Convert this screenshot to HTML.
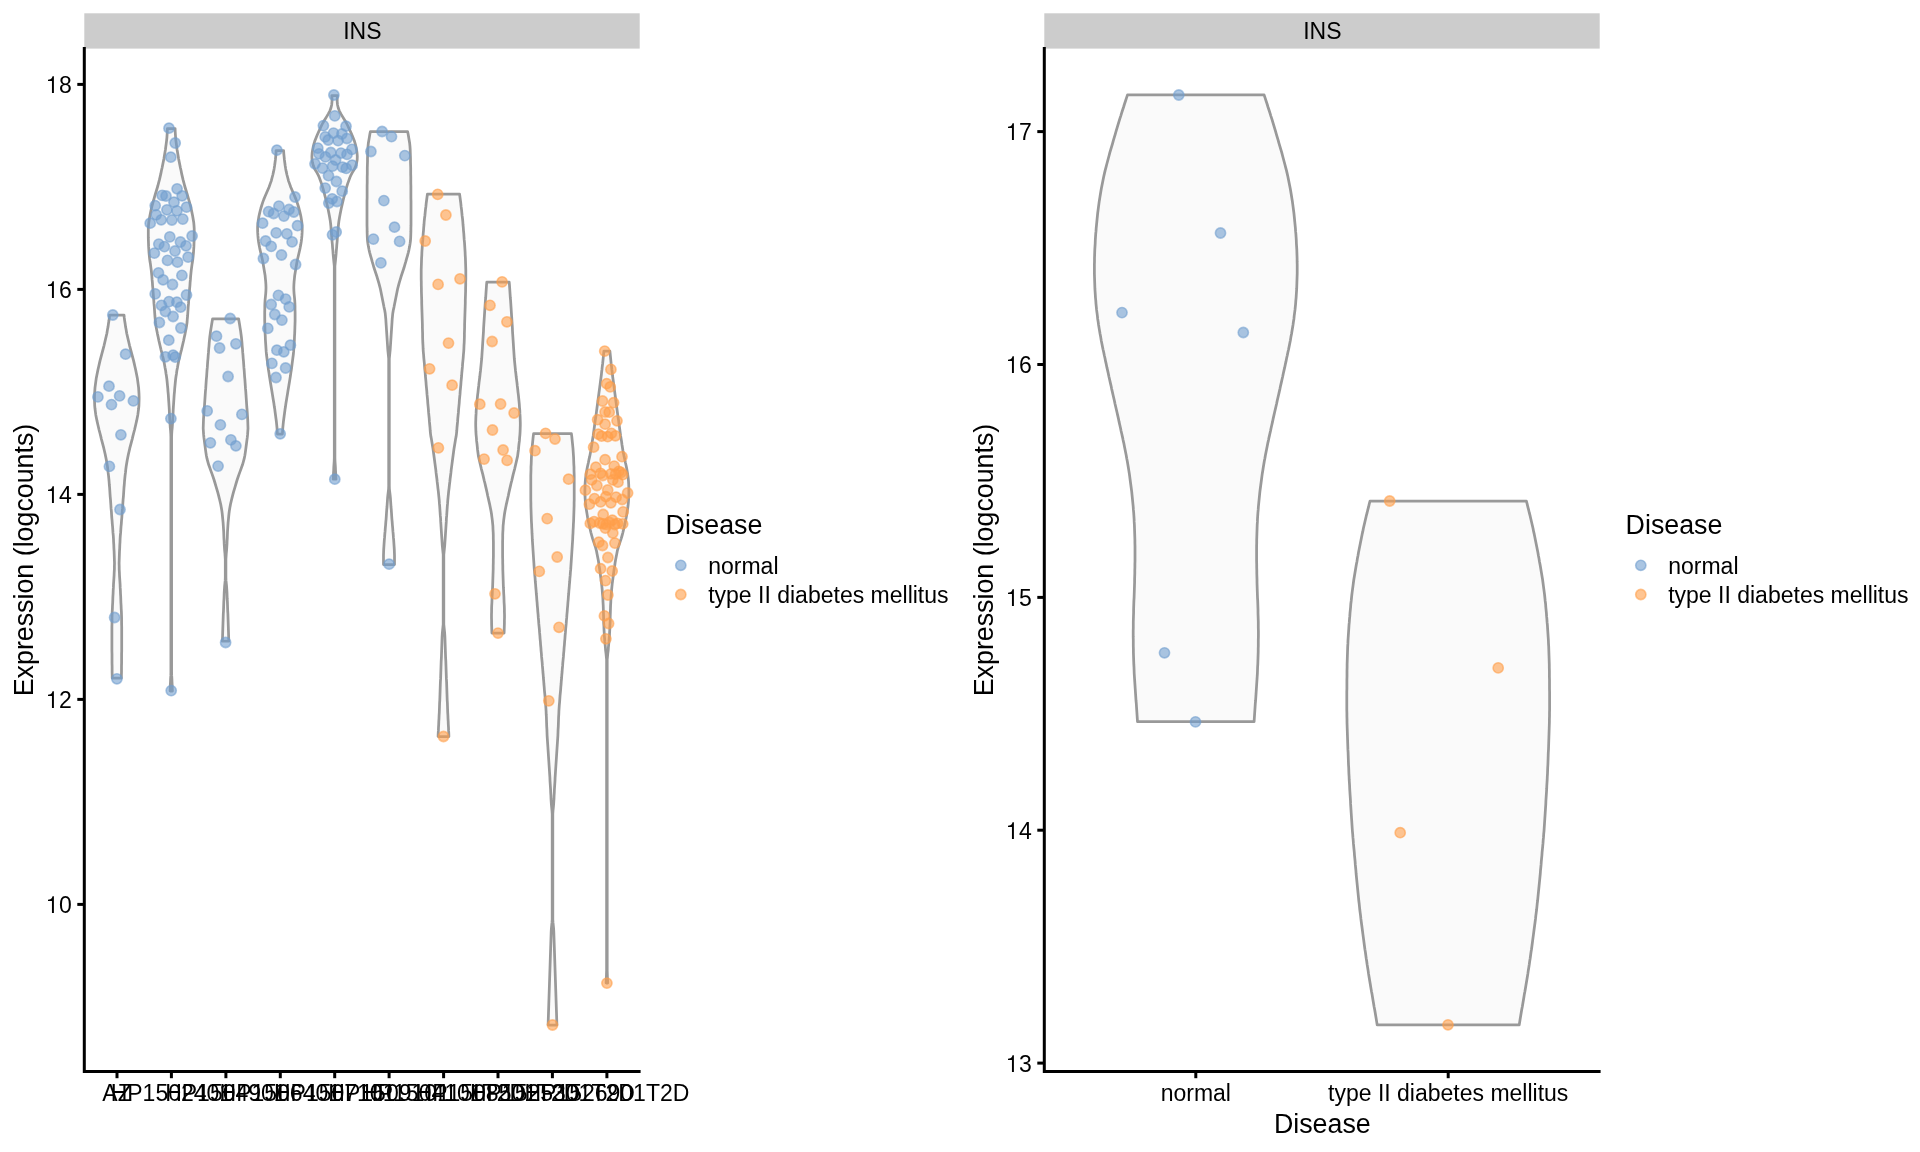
<!DOCTYPE html><html><head><meta charset="utf-8"><title>INS expression</title>
<style>html,body{margin:0;padding:0;background:#fff}svg{display:block;will-change:transform}text{font-family:"Liberation Sans",sans-serif;fill:#000}.t{font-size:23px}.T{font-size:26.8px}</style>
</head><body>
<svg width="1920" height="1152" viewBox="0 0 1920 1152">
<rect width="1920" height="1152" fill="#fff"/>
<rect x="84.3" y="13.3" width="555.4" height="35.3" fill="#CCCCCC"/>
<text class="t" x="362.3" y="38.8" text-anchor="middle">INS</text>
<g fill="#FAFAFA" stroke="#999999" stroke-width="2.75" stroke-linejoin="round">
<path d="M109.6 315.0 L109.3 318.0 L108.9 321.1 L108.4 324.1 L108.0 327.1 L107.4 330.1 L106.9 333.2 L106.2 336.2 L105.5 339.2 L104.8 342.2 L104.1 345.3 L103.3 348.3 L102.5 351.3 L101.7 354.3 L100.9 357.4 L100.1 360.4 L99.4 363.4 L98.7 366.5 L98.0 369.5 L97.4 372.5 L96.8 375.5 L96.2 378.6 L95.8 381.6 L95.4 384.6 L95.0 387.6 L94.8 390.7 L94.6 393.7 L94.5 396.7 L94.5 399.7 L94.6 402.8 L94.7 405.8 L95.0 408.8 L95.4 411.9 L95.8 414.9 L96.4 417.9 L97.0 420.9 L97.7 424.0 L98.4 427.0 L99.1 430.0 L99.9 433.0 L100.7 436.1 L101.4 439.1 L102.2 442.1 L103.0 445.1 L103.8 448.2 L104.5 451.2 L105.2 454.2 L105.8 457.3 L106.4 460.3 L106.9 463.3 L107.4 466.3 L107.8 469.4 L108.1 472.4 L108.5 475.4 L108.8 478.4 L109.1 481.5 L109.3 484.5 L109.6 487.5 L109.8 490.5 L110.0 493.6 L110.2 496.6 L110.5 499.6 L110.7 502.7 L110.9 505.7 L111.1 508.7 L111.4 511.7 L111.6 514.8 L111.8 517.8 L112.1 520.8 L112.3 523.8 L112.6 526.9 L112.8 529.9 L113.0 532.9 L113.3 535.9 L113.5 539.0 L113.6 542.0 L113.8 545.0 L113.9 548.1 L114.1 551.1 L114.2 554.1 L114.3 557.1 L114.4 560.2 L114.5 563.2 L114.4 566.2 L114.4 569.2 L114.2 572.3 L114.1 575.3 L113.9 578.3 L113.7 581.3 L113.5 584.4 L113.4 587.4 L113.2 590.4 L113.1 593.5 L112.9 596.5 L112.8 599.5 L112.7 602.5 L112.5 605.6 L112.4 608.6 L112.2 611.6 L112.1 614.6 L112.0 617.7 L112.0 620.7 L112.0 623.7 L111.9 626.7 L111.9 629.8 L111.9 632.8 L111.9 635.8 L111.9 638.9 L111.9 641.9 L111.9 644.9 L111.9 647.9 L111.9 651.0 L112.0 654.0 L112.0 657.0 L112.0 660.0 L112.0 663.1 L112.1 666.1 L112.1 669.1 L112.1 672.1 L112.2 675.2 L112.2 678.2 L121.4 678.2 L121.4 675.2 L121.5 672.1 L121.5 669.1 L121.5 666.1 L121.6 663.1 L121.6 660.0 L121.6 657.0 L121.6 654.0 L121.7 651.0 L121.7 647.9 L121.7 644.9 L121.7 641.9 L121.7 638.9 L121.7 635.8 L121.7 632.8 L121.7 629.8 L121.7 626.7 L121.6 623.7 L121.6 620.7 L121.6 617.7 L121.5 614.6 L121.4 611.6 L121.2 608.6 L121.1 605.6 L120.9 602.5 L120.8 599.5 L120.7 596.5 L120.5 593.5 L120.4 590.4 L120.2 587.4 L120.1 584.4 L119.9 581.3 L119.7 578.3 L119.5 575.3 L119.4 572.3 L119.2 569.2 L119.2 566.2 L119.1 563.2 L119.2 560.2 L119.3 557.1 L119.4 554.1 L119.5 551.1 L119.7 548.1 L119.8 545.0 L120.0 542.0 L120.1 539.0 L120.3 535.9 L120.6 532.9 L120.8 529.9 L121.0 526.9 L121.3 523.8 L121.5 520.8 L121.8 517.8 L122.0 514.8 L122.2 511.7 L122.5 508.7 L122.7 505.7 L122.9 502.7 L123.1 499.6 L123.4 496.6 L123.6 493.6 L123.8 490.5 L124.0 487.5 L124.3 484.5 L124.5 481.5 L124.8 478.4 L125.1 475.4 L125.5 472.4 L125.8 469.4 L126.2 466.3 L126.7 463.3 L127.2 460.3 L127.8 457.3 L128.4 454.2 L129.1 451.2 L129.8 448.2 L130.6 445.1 L131.4 442.1 L132.2 439.1 L132.9 436.1 L133.7 433.0 L134.5 430.0 L135.2 427.0 L135.9 424.0 L136.6 420.9 L137.2 417.9 L137.8 414.9 L138.2 411.9 L138.6 408.8 L138.9 405.8 L139.0 402.8 L139.1 399.7 L139.1 396.7 L139.0 393.7 L138.8 390.7 L138.6 387.6 L138.2 384.6 L137.8 381.6 L137.4 378.6 L136.8 375.5 L136.2 372.5 L135.6 369.5 L134.9 366.5 L134.2 363.4 L133.5 360.4 L132.7 357.4 L131.9 354.3 L131.1 351.3 L130.3 348.3 L129.5 345.3 L128.8 342.2 L128.1 339.2 L127.4 336.2 L126.7 333.2 L126.2 330.1 L125.6 327.1 L125.2 324.1 L124.7 321.1 L124.3 318.0 L124.0 315.0Z"/>
<path d="M167.4 128.5 L167.3 131.5 L167.1 134.5 L166.9 137.6 L166.6 140.6 L166.2 143.6 L165.8 146.6 L165.4 149.7 L164.9 152.7 L164.4 155.7 L163.9 158.7 L163.3 161.8 L162.7 164.8 L162.1 167.8 L161.4 170.8 L160.8 173.9 L160.1 176.9 L159.4 179.9 L158.6 182.9 L157.8 186.0 L156.9 189.0 L156.0 192.0 L155.1 195.0 L154.2 198.1 L153.3 201.1 L152.5 204.1 L151.7 207.1 L151.0 210.2 L150.4 213.2 L149.8 216.2 L149.3 219.2 L148.8 222.2 L148.5 225.3 L148.3 228.3 L148.3 231.3 L148.3 234.3 L148.3 237.4 L148.4 240.4 L148.5 243.4 L148.6 246.4 L148.8 249.5 L149.0 252.5 L149.3 255.5 L149.6 258.5 L150.0 261.6 L150.5 264.6 L150.9 267.6 L151.3 270.6 L151.6 273.7 L151.9 276.7 L152.1 279.7 L152.4 282.7 L152.6 285.8 L152.9 288.8 L153.1 291.8 L153.3 294.8 L153.6 297.9 L153.8 300.9 L154.0 303.9 L154.3 306.9 L154.5 310.0 L154.7 313.0 L154.9 316.0 L155.2 319.0 L155.4 322.0 L155.8 325.1 L156.3 328.1 L156.9 331.1 L157.5 334.1 L158.2 337.2 L158.8 340.2 L159.5 343.2 L160.2 346.2 L160.9 349.3 L161.7 352.3 L162.4 355.3 L163.2 358.3 L163.9 361.4 L164.5 364.4 L165.0 367.4 L165.6 370.4 L166.0 373.5 L166.5 376.5 L166.9 379.5 L167.2 382.5 L167.5 385.6 L167.8 388.6 L168.0 391.6 L168.3 394.6 L168.5 397.7 L168.7 400.7 L168.9 403.7 L169.1 406.7 L169.3 409.8 L169.4 412.8 L169.6 415.8 L169.7 418.8 L169.9 421.8 L170.1 424.9 L170.3 427.9 L170.6 430.9 L170.8 433.9 L170.9 437.0 L170.9 440.0 L170.9 443.0 L170.9 446.0 L170.9 449.1 L170.9 452.1 L170.9 455.1 L170.9 458.1 L170.9 461.2 L170.9 464.2 L170.9 467.2 L170.9 470.2 L170.9 473.3 L170.9 476.3 L170.9 479.3 L170.9 482.3 L170.9 485.4 L170.9 488.4 L170.9 491.4 L170.9 494.4 L170.9 497.5 L170.9 500.5 L170.9 503.5 L170.9 506.5 L170.9 509.5 L170.9 512.6 L170.9 515.6 L170.9 518.6 L170.9 521.6 L170.9 524.7 L170.9 527.7 L170.9 530.7 L170.9 533.7 L170.9 536.8 L170.9 539.8 L170.9 542.8 L170.9 545.8 L170.9 548.9 L170.9 551.9 L170.9 554.9 L170.9 557.9 L170.9 561.0 L170.9 564.0 L170.9 567.0 L170.9 570.0 L170.9 573.1 L170.9 576.1 L170.9 579.1 L170.9 582.1 L170.9 585.2 L170.9 588.2 L170.9 591.2 L170.9 594.2 L170.9 597.2 L170.9 600.3 L170.9 603.3 L170.9 606.3 L170.9 609.3 L170.9 612.4 L170.9 615.4 L170.9 618.4 L170.9 621.4 L170.9 624.5 L170.9 627.5 L170.9 630.5 L170.9 633.5 L170.9 636.6 L170.9 639.6 L170.9 642.6 L170.9 645.6 L170.9 648.7 L170.9 651.7 L170.9 654.7 L170.9 657.7 L170.9 660.8 L170.9 663.8 L170.9 666.8 L170.9 669.8 L170.9 672.9 L170.8 675.9 L170.6 678.9 L170.5 681.9 L170.3 685.0 L170.2 688.0 L170.1 691.0 L172.4 691.0 L172.3 688.0 L172.2 685.0 L172.0 681.9 L171.9 678.9 L171.7 675.9 L171.6 672.9 L171.6 669.8 L171.6 666.8 L171.6 663.8 L171.6 660.8 L171.6 657.7 L171.6 654.7 L171.6 651.7 L171.6 648.7 L171.6 645.6 L171.6 642.6 L171.6 639.6 L171.6 636.6 L171.6 633.5 L171.6 630.5 L171.6 627.5 L171.6 624.5 L171.6 621.4 L171.6 618.4 L171.6 615.4 L171.6 612.4 L171.6 609.3 L171.6 606.3 L171.6 603.3 L171.6 600.3 L171.6 597.2 L171.6 594.2 L171.6 591.2 L171.6 588.2 L171.6 585.2 L171.6 582.1 L171.6 579.1 L171.6 576.1 L171.6 573.1 L171.6 570.0 L171.6 567.0 L171.6 564.0 L171.6 561.0 L171.6 557.9 L171.6 554.9 L171.6 551.9 L171.6 548.9 L171.6 545.8 L171.6 542.8 L171.6 539.8 L171.6 536.8 L171.6 533.7 L171.6 530.7 L171.6 527.7 L171.6 524.7 L171.6 521.6 L171.6 518.6 L171.6 515.6 L171.6 512.6 L171.6 509.5 L171.6 506.5 L171.6 503.5 L171.6 500.5 L171.6 497.5 L171.6 494.4 L171.6 491.4 L171.6 488.4 L171.6 485.4 L171.6 482.3 L171.6 479.3 L171.6 476.3 L171.6 473.3 L171.6 470.2 L171.6 467.2 L171.6 464.2 L171.6 461.2 L171.6 458.1 L171.6 455.1 L171.6 452.1 L171.6 449.1 L171.6 446.0 L171.6 443.0 L171.6 440.0 L171.6 437.0 L171.7 433.9 L171.9 430.9 L172.2 427.9 L172.4 424.9 L172.6 421.8 L172.8 418.8 L172.9 415.8 L173.1 412.8 L173.2 409.8 L173.4 406.7 L173.6 403.7 L173.8 400.7 L174.0 397.7 L174.2 394.6 L174.5 391.6 L174.7 388.6 L175.0 385.6 L175.3 382.5 L175.6 379.5 L176.0 376.5 L176.5 373.5 L176.9 370.4 L177.5 367.4 L178.0 364.4 L178.6 361.4 L179.3 358.3 L180.1 355.3 L180.8 352.3 L181.6 349.3 L182.3 346.2 L183.0 343.2 L183.7 340.2 L184.3 337.2 L185.0 334.1 L185.6 331.1 L186.2 328.1 L186.7 325.1 L187.1 322.0 L187.3 319.0 L187.6 316.0 L187.8 313.0 L188.0 310.0 L188.2 306.9 L188.5 303.9 L188.7 300.9 L188.9 297.9 L189.2 294.8 L189.4 291.8 L189.6 288.8 L189.9 285.8 L190.1 282.7 L190.4 279.7 L190.6 276.7 L190.9 273.7 L191.2 270.6 L191.6 267.6 L192.0 264.6 L192.5 261.6 L192.9 258.5 L193.2 255.5 L193.5 252.5 L193.7 249.5 L193.9 246.4 L194.0 243.4 L194.1 240.4 L194.2 237.4 L194.2 234.3 L194.2 231.3 L194.2 228.3 L194.0 225.3 L193.7 222.2 L193.2 219.2 L192.7 216.2 L192.1 213.2 L191.5 210.2 L190.8 207.1 L190.0 204.1 L189.2 201.1 L188.3 198.1 L187.4 195.0 L186.5 192.0 L185.6 189.0 L184.7 186.0 L183.9 182.9 L183.1 179.9 L182.4 176.9 L181.7 173.9 L181.1 170.8 L180.4 167.8 L179.8 164.8 L179.2 161.8 L178.6 158.7 L178.1 155.7 L177.6 152.7 L177.1 149.7 L176.7 146.6 L176.3 143.6 L175.9 140.6 L175.6 137.6 L175.4 134.5 L175.2 131.5 L175.1 128.5Z"/>
<path d="M212.6 318.8 L212.1 321.8 L211.6 324.8 L211.1 327.9 L210.6 330.9 L210.2 334.0 L209.8 337.0 L209.5 340.0 L209.2 343.1 L209.0 346.1 L208.7 349.2 L208.5 352.2 L208.2 355.3 L208.0 358.3 L207.7 361.3 L207.5 364.4 L207.3 367.4 L207.0 370.5 L206.8 373.5 L206.6 376.6 L206.3 379.6 L206.1 382.6 L205.9 385.7 L205.7 388.7 L205.4 391.8 L205.2 394.8 L205.0 397.9 L204.8 400.9 L204.6 403.9 L204.4 407.0 L204.1 410.0 L203.9 413.1 L203.7 416.1 L203.5 419.2 L203.4 422.2 L203.3 425.2 L203.2 428.3 L203.4 431.3 L203.6 434.4 L203.9 437.4 L204.3 440.4 L204.7 443.5 L205.1 446.5 L205.5 449.6 L205.9 452.6 L206.4 455.7 L207.0 458.7 L207.8 461.7 L208.7 464.8 L209.8 467.8 L210.9 470.9 L212.0 473.9 L213.1 477.0 L214.1 480.0 L215.0 483.0 L215.9 486.1 L216.8 489.1 L217.7 492.2 L218.5 495.2 L219.3 498.3 L220.0 501.3 L220.7 504.3 L221.3 507.4 L221.8 510.4 L222.2 513.5 L222.5 516.5 L222.8 519.6 L223.1 522.6 L223.3 525.6 L223.5 528.7 L223.7 531.7 L223.8 534.8 L223.9 537.8 L224.1 540.8 L224.2 543.9 L224.4 546.9 L224.6 550.0 L224.9 553.0 L225.1 556.1 L225.3 559.1 L225.3 562.1 L225.3 565.2 L225.3 568.2 L225.3 571.3 L225.3 574.3 L225.3 577.4 L225.2 580.4 L224.9 583.4 L224.6 586.5 L224.4 589.5 L224.2 592.6 L224.1 595.6 L224.0 598.7 L223.8 601.7 L223.7 604.7 L223.6 607.8 L223.5 610.8 L223.3 613.9 L223.2 616.9 L223.1 620.0 L223.0 623.0 L222.9 626.0 L222.8 629.1 L222.7 632.1 L222.6 635.2 L222.5 638.2 L222.3 641.2 L228.8 641.2 L228.7 638.2 L228.6 635.2 L228.5 632.1 L228.4 629.1 L228.3 626.0 L228.2 623.0 L228.1 620.0 L228.0 616.9 L227.9 613.9 L227.7 610.8 L227.6 607.8 L227.5 604.7 L227.4 601.7 L227.2 598.7 L227.1 595.6 L227.0 592.6 L226.8 589.5 L226.6 586.5 L226.3 583.4 L226.0 580.4 L225.9 577.4 L225.9 574.3 L225.9 571.3 L225.9 568.2 L225.9 565.2 L225.9 562.1 L225.9 559.1 L226.1 556.1 L226.3 553.0 L226.6 550.0 L226.8 546.9 L227.0 543.9 L227.1 540.8 L227.3 537.8 L227.4 534.8 L227.5 531.7 L227.7 528.7 L227.9 525.6 L228.1 522.6 L228.4 519.6 L228.7 516.5 L229.0 513.5 L229.4 510.4 L229.9 507.4 L230.5 504.3 L231.2 501.3 L231.9 498.3 L232.7 495.2 L233.5 492.2 L234.4 489.1 L235.3 486.1 L236.2 483.0 L237.1 480.0 L238.1 477.0 L239.2 473.9 L240.3 470.9 L241.4 467.8 L242.5 464.8 L243.4 461.7 L244.2 458.7 L244.8 455.7 L245.3 452.6 L245.7 449.6 L246.1 446.5 L246.5 443.5 L246.9 440.4 L247.3 437.4 L247.6 434.4 L247.8 431.3 L248.0 428.3 L247.9 425.2 L247.8 422.2 L247.7 419.2 L247.5 416.1 L247.3 413.1 L247.1 410.0 L246.8 407.0 L246.6 403.9 L246.4 400.9 L246.2 397.9 L246.0 394.8 L245.8 391.8 L245.5 388.7 L245.3 385.7 L245.1 382.6 L244.9 379.6 L244.6 376.6 L244.4 373.5 L244.2 370.5 L243.9 367.4 L243.7 364.4 L243.5 361.3 L243.2 358.3 L243.0 355.3 L242.7 352.2 L242.5 349.2 L242.2 346.1 L242.0 343.1 L241.7 340.0 L241.4 337.0 L241.0 334.0 L240.6 330.9 L240.1 327.9 L239.6 324.8 L239.1 321.8 L238.6 318.8Z"/>
<path d="M276.1 150.6 L276.0 153.6 L275.7 156.7 L275.4 159.7 L275.0 162.8 L274.6 165.8 L274.1 168.9 L273.5 171.9 L272.8 175.0 L272.0 178.0 L271.2 181.1 L270.1 184.1 L269.0 187.2 L267.7 190.2 L266.4 193.3 L265.1 196.3 L263.8 199.4 L262.7 202.4 L261.7 205.5 L260.8 208.5 L260.0 211.5 L259.3 214.6 L258.7 217.6 L258.2 220.7 L257.8 223.7 L257.6 226.8 L257.6 229.8 L257.7 232.9 L257.9 235.9 L258.2 239.0 L258.6 242.0 L259.1 245.1 L259.7 248.1 L260.4 251.2 L261.1 254.2 L261.8 257.3 L262.5 260.3 L263.1 263.4 L263.6 266.4 L264.1 269.4 L264.6 272.5 L265.1 275.5 L265.4 278.6 L265.7 281.6 L265.9 284.7 L266.0 287.7 L265.9 290.8 L265.7 293.8 L265.4 296.9 L265.1 299.9 L264.9 303.0 L264.8 306.0 L264.8 309.1 L264.7 312.1 L264.7 315.2 L264.7 318.2 L264.7 321.2 L264.8 324.3 L264.9 327.3 L265.0 330.4 L265.1 333.4 L265.3 336.5 L265.4 339.5 L265.6 342.6 L265.8 345.6 L266.0 348.7 L266.2 351.7 L266.5 354.8 L266.9 357.8 L267.3 360.9 L267.7 363.9 L268.1 367.0 L268.5 370.0 L269.0 373.1 L269.4 376.1 L269.9 379.1 L270.4 382.2 L270.9 385.2 L271.4 388.3 L271.9 391.3 L272.4 394.4 L272.9 397.4 L273.4 400.5 L273.9 403.5 L274.3 406.6 L274.8 409.6 L275.2 412.7 L275.6 415.7 L276.0 418.8 L276.4 421.8 L276.7 424.9 L277.0 427.9 L277.2 431.0 L277.4 434.0 L282.4 434.0 L282.6 431.0 L282.8 427.9 L283.1 424.9 L283.4 421.8 L283.8 418.8 L284.2 415.7 L284.6 412.7 L285.0 409.6 L285.5 406.6 L285.9 403.5 L286.4 400.5 L286.9 397.4 L287.4 394.4 L287.9 391.3 L288.4 388.3 L288.9 385.2 L289.4 382.2 L289.9 379.1 L290.4 376.1 L290.8 373.1 L291.3 370.0 L291.7 367.0 L292.1 363.9 L292.5 360.9 L292.9 357.8 L293.3 354.8 L293.6 351.7 L293.8 348.7 L294.0 345.6 L294.2 342.6 L294.4 339.5 L294.5 336.5 L294.7 333.4 L294.8 330.4 L294.9 327.3 L295.0 324.3 L295.1 321.2 L295.1 318.2 L295.1 315.2 L295.1 312.1 L295.0 309.1 L295.0 306.0 L294.9 303.0 L294.7 299.9 L294.4 296.9 L294.1 293.8 L293.9 290.8 L293.8 287.7 L293.9 284.7 L294.1 281.6 L294.4 278.6 L294.7 275.5 L295.2 272.5 L295.7 269.4 L296.2 266.4 L296.7 263.4 L297.3 260.3 L298.0 257.3 L298.7 254.2 L299.4 251.2 L300.1 248.1 L300.7 245.1 L301.2 242.0 L301.6 239.0 L301.9 235.9 L302.1 232.9 L302.2 229.8 L302.2 226.8 L302.0 223.7 L301.6 220.7 L301.1 217.6 L300.5 214.6 L299.8 211.5 L299.0 208.5 L298.1 205.5 L297.1 202.4 L296.0 199.4 L294.7 196.3 L293.4 193.3 L292.1 190.2 L290.8 187.2 L289.7 184.1 L288.6 181.1 L287.8 178.0 L287.0 175.0 L286.3 171.9 L285.7 168.9 L285.2 165.8 L284.8 162.8 L284.4 159.7 L284.1 156.7 L283.8 153.6 L283.6 150.6Z"/>
<path d="M331.8 95.6 L332.0 98.6 L332.0 101.7 L331.7 104.7 L331.0 107.8 L329.9 110.8 L328.3 113.9 L326.5 116.9 L324.6 120.0 L322.8 123.0 L321.3 126.0 L319.9 129.1 L318.5 132.1 L317.1 135.2 L315.9 138.2 L314.7 141.3 L313.8 144.3 L313.1 147.4 L312.5 150.4 L312.1 153.5 L311.9 156.5 L312.0 159.5 L312.5 162.6 L313.3 165.6 L314.6 168.7 L316.4 171.7 L318.1 174.8 L319.4 177.8 L320.5 180.9 L321.6 183.9 L322.5 186.9 L323.4 190.0 L324.2 193.0 L325.0 196.1 L325.8 199.1 L326.5 202.2 L327.2 205.2 L327.9 208.3 L328.5 211.3 L329.1 214.3 L329.7 217.4 L330.2 220.4 L330.6 223.5 L330.9 226.5 L331.1 229.6 L331.4 232.6 L331.6 235.7 L331.9 238.7 L332.1 241.8 L332.4 244.8 L332.6 247.8 L332.9 250.9 L333.1 253.9 L333.4 257.0 L333.7 260.0 L334.0 263.1 L334.3 266.1 L334.3 269.2 L334.3 272.2 L334.3 275.2 L334.3 278.3 L334.3 281.3 L334.3 284.4 L334.3 287.4 L334.3 290.5 L334.3 293.5 L334.3 296.6 L334.3 299.6 L334.3 302.6 L334.3 305.7 L334.3 308.7 L334.3 311.8 L334.3 314.8 L334.3 317.9 L334.3 320.9 L334.3 324.0 L334.3 327.0 L334.3 330.1 L334.3 333.1 L334.3 336.1 L334.3 339.2 L334.3 342.2 L334.3 345.3 L334.3 348.3 L334.3 351.4 L334.3 354.4 L334.3 357.5 L334.3 360.5 L334.3 363.5 L334.3 366.6 L334.3 369.6 L334.3 372.7 L334.3 375.7 L334.3 378.8 L334.3 381.8 L334.3 384.9 L334.3 387.9 L334.3 390.9 L334.3 394.0 L334.3 397.0 L334.3 400.1 L334.3 403.1 L334.3 406.2 L334.3 409.2 L334.3 412.3 L334.3 415.3 L334.3 418.4 L334.3 421.4 L334.3 424.4 L334.3 427.5 L334.3 430.5 L334.3 433.6 L334.3 436.6 L334.3 439.7 L334.3 442.7 L334.3 445.8 L334.3 448.8 L334.3 451.8 L334.3 454.9 L334.3 457.9 L334.2 461.0 L334.0 464.0 L333.8 467.1 L333.7 470.1 L333.5 473.2 L333.4 476.2 L333.2 479.2 L336.0 479.2 L335.8 476.2 L335.7 473.2 L335.5 470.1 L335.4 467.1 L335.2 464.0 L335.0 461.0 L334.9 457.9 L334.9 454.9 L334.9 451.8 L334.9 448.8 L334.9 445.8 L334.9 442.7 L334.9 439.7 L334.9 436.6 L334.9 433.6 L334.9 430.5 L334.9 427.5 L334.9 424.4 L334.9 421.4 L334.9 418.4 L334.9 415.3 L334.9 412.3 L334.9 409.2 L334.9 406.2 L334.9 403.1 L334.9 400.1 L334.9 397.0 L334.9 394.0 L334.9 390.9 L334.9 387.9 L334.9 384.9 L334.9 381.8 L334.9 378.8 L334.9 375.7 L334.9 372.7 L334.9 369.6 L334.9 366.6 L334.9 363.5 L334.9 360.5 L334.9 357.5 L334.9 354.4 L334.9 351.4 L334.9 348.3 L334.9 345.3 L334.9 342.2 L334.9 339.2 L334.9 336.1 L334.9 333.1 L334.9 330.1 L334.9 327.0 L334.9 324.0 L334.9 320.9 L334.9 317.9 L334.9 314.8 L334.9 311.8 L334.9 308.7 L334.9 305.7 L334.9 302.6 L334.9 299.6 L334.9 296.6 L334.9 293.5 L334.9 290.5 L334.9 287.4 L334.9 284.4 L334.9 281.3 L334.9 278.3 L334.9 275.2 L334.9 272.2 L334.9 269.2 L334.9 266.1 L335.2 263.1 L335.5 260.0 L335.8 257.0 L336.1 253.9 L336.3 250.9 L336.6 247.8 L336.8 244.8 L337.1 241.8 L337.3 238.7 L337.6 235.7 L337.8 232.6 L338.1 229.6 L338.3 226.5 L338.6 223.5 L339.0 220.4 L339.5 217.4 L340.1 214.3 L340.7 211.3 L341.3 208.3 L342.0 205.2 L342.7 202.2 L343.4 199.1 L344.2 196.1 L345.0 193.0 L345.8 190.0 L346.7 186.9 L347.6 183.9 L348.7 180.9 L349.8 177.8 L351.1 174.8 L352.8 171.7 L354.6 168.7 L355.9 165.6 L356.7 162.6 L357.2 159.5 L357.3 156.5 L357.1 153.5 L356.7 150.4 L356.1 147.4 L355.4 144.3 L354.5 141.3 L353.3 138.2 L352.1 135.2 L350.7 132.1 L349.3 129.1 L347.9 126.0 L346.4 123.0 L344.6 120.0 L342.7 116.9 L340.9 113.9 L339.3 110.8 L338.2 107.8 L337.5 104.7 L337.2 101.7 L337.2 98.6 L337.4 95.6Z"/>
<path d="M370.4 131.5 L369.8 134.5 L369.3 137.6 L368.8 140.6 L368.3 143.6 L368.0 146.6 L367.8 149.7 L367.7 152.7 L367.6 155.7 L367.5 158.8 L367.5 161.8 L367.4 164.8 L367.3 167.8 L367.3 170.9 L367.3 173.9 L367.2 176.9 L367.2 179.9 L367.2 183.0 L367.1 186.0 L367.1 189.0 L367.1 192.1 L367.1 195.1 L367.1 198.1 L367.0 201.1 L367.0 204.2 L367.0 207.2 L367.0 210.2 L367.0 213.3 L367.0 216.3 L367.0 219.3 L367.0 222.3 L367.0 225.4 L367.1 228.4 L367.1 231.4 L367.2 234.5 L367.3 237.5 L367.5 240.5 L367.9 243.5 L368.4 246.6 L369.0 249.6 L369.7 252.6 L370.5 255.6 L371.4 258.7 L372.2 261.7 L373.1 264.7 L374.0 267.8 L375.0 270.8 L376.0 273.8 L377.0 276.8 L377.9 279.9 L378.8 282.9 L379.6 285.9 L380.4 289.0 L381.0 292.0 L381.6 295.0 L382.2 298.0 L382.8 301.1 L383.4 304.1 L384.0 307.1 L384.7 310.2 L385.2 313.2 L385.5 316.2 L385.8 319.2 L386.0 322.3 L386.2 325.3 L386.4 328.3 L386.6 331.3 L386.8 334.4 L387.0 337.4 L387.2 340.4 L387.4 343.5 L387.6 346.5 L387.8 349.5 L388.1 352.5 L388.4 355.6 L388.7 358.6 L388.7 361.6 L388.7 364.7 L388.7 367.7 L388.7 370.7 L388.7 373.7 L388.7 376.8 L388.7 379.8 L388.7 382.8 L388.7 385.8 L388.7 388.9 L388.7 391.9 L388.7 394.9 L388.7 398.0 L388.7 401.0 L388.7 404.0 L388.7 407.0 L388.7 410.1 L388.7 413.1 L388.7 416.1 L388.7 419.2 L388.7 422.2 L388.7 425.2 L388.7 428.2 L388.7 431.3 L388.7 434.3 L388.7 437.3 L388.7 440.4 L388.7 443.4 L388.7 446.4 L388.7 449.4 L388.7 452.5 L388.7 455.5 L388.7 458.5 L388.7 461.5 L388.7 464.6 L388.7 467.6 L388.7 470.6 L388.7 473.7 L388.7 476.7 L388.7 479.7 L388.7 482.7 L388.7 485.8 L388.6 488.8 L388.3 491.8 L387.9 494.9 L387.6 497.9 L387.4 500.9 L387.2 503.9 L387.0 507.0 L386.7 510.0 L386.5 513.0 L386.3 516.1 L386.1 519.1 L385.8 522.1 L385.6 525.1 L385.3 528.2 L385.1 531.2 L384.8 534.2 L384.6 537.2 L384.3 540.3 L384.1 543.3 L383.9 546.3 L383.7 549.4 L383.6 552.4 L383.5 555.4 L383.5 558.4 L383.5 561.5 L383.5 564.5 L394.5 564.5 L394.5 561.5 L394.5 558.4 L394.5 555.4 L394.4 552.4 L394.3 549.4 L394.1 546.3 L393.9 543.3 L393.7 540.3 L393.4 537.2 L393.2 534.2 L392.9 531.2 L392.7 528.2 L392.4 525.1 L392.2 522.1 L391.9 519.1 L391.7 516.1 L391.5 513.0 L391.3 510.0 L391.0 507.0 L390.8 503.9 L390.6 500.9 L390.4 497.9 L390.1 494.9 L389.7 491.8 L389.4 488.8 L389.3 485.8 L389.3 482.7 L389.3 479.7 L389.3 476.7 L389.3 473.7 L389.3 470.6 L389.3 467.6 L389.3 464.6 L389.3 461.5 L389.3 458.5 L389.3 455.5 L389.3 452.5 L389.3 449.4 L389.3 446.4 L389.3 443.4 L389.3 440.4 L389.3 437.3 L389.3 434.3 L389.3 431.3 L389.3 428.2 L389.3 425.2 L389.3 422.2 L389.3 419.2 L389.3 416.1 L389.3 413.1 L389.3 410.1 L389.3 407.0 L389.3 404.0 L389.3 401.0 L389.3 398.0 L389.3 394.9 L389.3 391.9 L389.3 388.9 L389.3 385.8 L389.3 382.8 L389.3 379.8 L389.3 376.8 L389.3 373.7 L389.3 370.7 L389.3 367.7 L389.3 364.7 L389.3 361.6 L389.3 358.6 L389.6 355.6 L389.9 352.5 L390.2 349.5 L390.4 346.5 L390.6 343.5 L390.8 340.4 L391.0 337.4 L391.2 334.4 L391.4 331.3 L391.6 328.3 L391.8 325.3 L392.0 322.3 L392.2 319.2 L392.5 316.2 L392.8 313.2 L393.3 310.2 L394.0 307.1 L394.6 304.1 L395.2 301.1 L395.8 298.0 L396.4 295.0 L397.0 292.0 L397.6 289.0 L398.4 285.9 L399.2 282.9 L400.1 279.9 L401.0 276.8 L402.0 273.8 L403.0 270.8 L404.0 267.8 L404.9 264.7 L405.8 261.7 L406.6 258.7 L407.5 255.6 L408.3 252.6 L409.0 249.6 L409.6 246.6 L410.1 243.5 L410.5 240.5 L410.7 237.5 L410.8 234.5 L410.9 231.4 L410.9 228.4 L411.0 225.4 L411.0 222.3 L411.0 219.3 L411.0 216.3 L411.0 213.3 L411.0 210.2 L411.0 207.2 L411.0 204.2 L411.0 201.1 L410.9 198.1 L410.9 195.1 L410.9 192.1 L410.9 189.0 L410.9 186.0 L410.8 183.0 L410.8 179.9 L410.8 176.9 L410.7 173.9 L410.7 170.9 L410.7 167.8 L410.6 164.8 L410.5 161.8 L410.5 158.8 L410.4 155.7 L410.3 152.7 L410.2 149.7 L410.0 146.6 L409.7 143.6 L409.2 140.6 L408.7 137.6 L408.2 134.5 L407.6 131.5Z"/>
<path d="M427.4 194.2 L427.0 197.3 L426.6 200.3 L426.2 203.3 L425.9 206.4 L425.5 209.4 L425.2 212.4 L424.9 215.5 L424.5 218.5 L424.2 221.5 L424.0 224.5 L423.7 227.6 L423.5 230.6 L423.2 233.6 L423.0 236.7 L422.8 239.7 L422.5 242.7 L422.3 245.7 L422.1 248.8 L421.9 251.8 L421.8 254.8 L421.6 257.9 L421.5 260.9 L421.4 263.9 L421.3 267.0 L421.2 270.0 L421.2 273.0 L421.2 276.0 L421.2 279.1 L421.3 282.1 L421.3 285.1 L421.4 288.2 L421.4 291.2 L421.5 294.2 L421.6 297.2 L421.7 300.3 L421.7 303.3 L421.8 306.3 L421.9 309.4 L422.0 312.4 L422.1 315.4 L422.2 318.5 L422.3 321.5 L422.4 324.5 L422.4 327.5 L422.5 330.6 L422.6 333.6 L422.6 336.6 L422.7 339.7 L422.8 342.7 L423.0 345.7 L423.1 348.7 L423.3 351.8 L423.6 354.8 L423.8 357.8 L424.1 360.9 L424.4 363.9 L424.6 366.9 L424.9 370.0 L425.2 373.0 L425.4 376.0 L425.7 379.0 L426.0 382.1 L426.2 385.1 L426.5 388.1 L426.8 391.2 L427.0 394.2 L427.3 397.2 L427.6 400.2 L427.8 403.3 L428.1 406.3 L428.4 409.3 L428.6 412.4 L428.9 415.4 L429.2 418.4 L429.4 421.4 L429.7 424.5 L430.0 427.5 L430.2 430.5 L430.5 433.6 L430.9 436.6 L431.5 439.6 L432.0 442.7 L432.5 445.7 L433.0 448.7 L433.4 451.7 L433.8 454.8 L434.2 457.8 L434.6 460.8 L435.0 463.9 L435.4 466.9 L435.8 469.9 L436.1 472.9 L436.5 476.0 L436.9 479.0 L437.2 482.0 L437.6 485.1 L437.9 488.1 L438.3 491.1 L438.6 494.2 L438.9 497.2 L439.2 500.2 L439.4 503.2 L439.7 506.3 L439.9 509.3 L440.1 512.3 L440.3 515.4 L440.6 518.4 L440.7 521.4 L440.9 524.4 L441.1 527.5 L441.3 530.5 L441.5 533.5 L441.7 536.6 L441.9 539.6 L442.1 542.6 L442.3 545.7 L442.6 548.7 L442.9 551.7 L443.2 554.7 L443.2 557.8 L443.2 560.8 L443.2 563.8 L443.2 566.9 L443.2 569.9 L443.2 572.9 L443.2 575.9 L443.2 579.0 L443.2 582.0 L443.2 585.0 L443.2 588.1 L443.2 591.1 L443.2 594.1 L443.2 597.2 L443.2 600.2 L443.2 603.2 L443.2 606.2 L443.2 609.3 L443.2 612.3 L443.2 615.3 L443.2 618.4 L443.2 621.4 L443.2 624.4 L442.9 627.4 L442.6 630.5 L442.3 633.5 L442.1 636.5 L442.0 639.6 L441.9 642.6 L441.8 645.6 L441.7 648.6 L441.6 651.7 L441.5 654.7 L441.4 657.7 L441.2 660.8 L441.1 663.8 L441.0 666.8 L440.9 669.9 L440.8 672.9 L440.7 675.9 L440.6 678.9 L440.4 682.0 L440.3 685.0 L440.2 688.0 L440.1 691.1 L440.0 694.1 L439.9 697.1 L439.8 700.1 L439.6 703.2 L439.5 706.2 L439.4 709.2 L439.3 712.3 L439.1 715.3 L439.0 718.3 L438.8 721.4 L438.7 724.4 L438.5 727.4 L438.4 730.4 L438.2 733.5 L438.1 736.5 L448.9 736.5 L448.8 733.5 L448.6 730.4 L448.5 727.4 L448.3 724.4 L448.2 721.4 L448.0 718.3 L447.9 715.3 L447.7 712.3 L447.6 709.2 L447.5 706.2 L447.4 703.2 L447.2 700.1 L447.1 697.1 L447.0 694.1 L446.9 691.1 L446.8 688.0 L446.7 685.0 L446.6 682.0 L446.4 678.9 L446.3 675.9 L446.2 672.9 L446.1 669.9 L446.0 666.8 L445.9 663.8 L445.8 660.8 L445.6 657.7 L445.5 654.7 L445.4 651.7 L445.3 648.6 L445.2 645.6 L445.1 642.6 L445.0 639.6 L444.9 636.5 L444.7 633.5 L444.4 630.5 L444.1 627.4 L443.8 624.4 L443.8 621.4 L443.8 618.4 L443.8 615.3 L443.8 612.3 L443.8 609.3 L443.8 606.2 L443.8 603.2 L443.8 600.2 L443.8 597.2 L443.8 594.1 L443.8 591.1 L443.8 588.1 L443.8 585.0 L443.8 582.0 L443.8 579.0 L443.8 575.9 L443.8 572.9 L443.8 569.9 L443.8 566.9 L443.8 563.8 L443.8 560.8 L443.8 557.8 L443.8 554.7 L444.1 551.7 L444.4 548.7 L444.7 545.7 L444.9 542.6 L445.1 539.6 L445.3 536.6 L445.5 533.5 L445.7 530.5 L445.9 527.5 L446.1 524.4 L446.3 521.4 L446.4 518.4 L446.7 515.4 L446.9 512.3 L447.1 509.3 L447.3 506.3 L447.6 503.2 L447.8 500.2 L448.1 497.2 L448.4 494.2 L448.7 491.1 L449.1 488.1 L449.4 485.1 L449.8 482.0 L450.1 479.0 L450.5 476.0 L450.9 472.9 L451.2 469.9 L451.6 466.9 L452.0 463.9 L452.4 460.8 L452.8 457.8 L453.2 454.8 L453.6 451.7 L454.0 448.7 L454.5 445.7 L455.0 442.7 L455.5 439.6 L456.1 436.6 L456.5 433.6 L456.8 430.5 L457.0 427.5 L457.3 424.5 L457.6 421.4 L457.8 418.4 L458.1 415.4 L458.4 412.4 L458.6 409.3 L458.9 406.3 L459.2 403.3 L459.4 400.2 L459.7 397.2 L460.0 394.2 L460.2 391.2 L460.5 388.1 L460.8 385.1 L461.0 382.1 L461.3 379.0 L461.6 376.0 L461.8 373.0 L462.1 370.0 L462.4 366.9 L462.6 363.9 L462.9 360.9 L463.2 357.8 L463.4 354.8 L463.7 351.8 L463.9 348.7 L464.0 345.7 L464.2 342.7 L464.3 339.7 L464.4 336.6 L464.4 333.6 L464.5 330.6 L464.6 327.5 L464.6 324.5 L464.7 321.5 L464.8 318.5 L464.9 315.4 L465.0 312.4 L465.1 309.4 L465.2 306.3 L465.3 303.3 L465.3 300.3 L465.4 297.2 L465.5 294.2 L465.6 291.2 L465.6 288.2 L465.7 285.1 L465.7 282.1 L465.8 279.1 L465.8 276.0 L465.8 273.0 L465.8 270.0 L465.7 267.0 L465.6 263.9 L465.5 260.9 L465.4 257.9 L465.2 254.8 L465.1 251.8 L464.9 248.8 L464.7 245.7 L464.5 242.7 L464.2 239.7 L464.0 236.7 L463.8 233.6 L463.5 230.6 L463.3 227.6 L463.0 224.5 L462.8 221.5 L462.5 218.5 L462.1 215.5 L461.8 212.4 L461.5 209.4 L461.1 206.4 L460.8 203.3 L460.4 200.3 L460.0 197.3 L459.6 194.2Z"/>
<path d="M486.8 282.2 L486.5 285.3 L486.3 288.4 L486.1 291.4 L485.9 294.4 L485.7 297.5 L485.4 300.6 L485.2 303.6 L485.0 306.6 L484.8 309.7 L484.6 312.8 L484.4 315.8 L484.2 318.9 L484.0 321.9 L483.8 324.9 L483.6 328.0 L483.5 331.1 L483.3 334.1 L483.1 337.1 L482.9 340.2 L482.7 343.2 L482.5 346.3 L482.3 349.4 L482.1 352.4 L481.9 355.4 L481.7 358.5 L481.4 361.6 L481.1 364.6 L480.8 367.6 L480.5 370.7 L480.1 373.8 L479.8 376.8 L479.4 379.9 L479.0 382.9 L478.7 385.9 L478.3 389.0 L478.0 392.1 L477.6 395.1 L477.3 398.1 L477.0 401.2 L476.7 404.2 L476.5 407.3 L476.2 410.4 L476.1 413.4 L475.9 416.4 L475.8 419.5 L475.7 422.5 L475.7 425.6 L475.8 428.6 L475.9 431.7 L476.1 434.8 L476.4 437.8 L476.6 440.9 L477.0 443.9 L477.3 446.9 L477.6 450.0 L478.0 453.0 L478.4 456.1 L479.1 459.1 L479.8 462.2 L480.5 465.2 L481.2 468.3 L482.0 471.4 L482.8 474.4 L483.5 477.4 L484.2 480.5 L485.0 483.5 L485.7 486.6 L486.4 489.6 L487.1 492.7 L487.7 495.8 L488.4 498.8 L489.1 501.9 L489.8 504.9 L490.4 507.9 L491.0 511.0 L491.5 514.0 L491.9 517.1 L492.3 520.1 L492.6 523.2 L492.9 526.2 L493.0 529.3 L493.2 532.4 L493.3 535.4 L493.3 538.5 L493.4 541.5 L493.4 544.5 L493.4 547.6 L493.4 550.6 L493.4 553.7 L493.4 556.8 L493.3 559.8 L493.3 562.8 L493.2 565.9 L493.2 569.0 L493.1 572.0 L493.0 575.0 L492.9 578.1 L492.8 581.1 L492.7 584.2 L492.6 587.2 L492.4 590.3 L492.3 593.3 L492.1 596.4 L492.0 599.5 L491.9 602.5 L491.7 605.5 L491.6 608.6 L491.6 611.6 L491.5 614.7 L491.5 617.8 L491.6 620.8 L491.6 623.8 L491.7 626.9 L491.8 630.0 L491.9 633.0 L504.1 633.0 L504.2 630.0 L504.3 626.9 L504.4 623.8 L504.4 620.8 L504.5 617.8 L504.5 614.7 L504.4 611.6 L504.4 608.6 L504.3 605.5 L504.1 602.5 L504.0 599.5 L503.9 596.4 L503.7 593.3 L503.6 590.3 L503.4 587.2 L503.3 584.2 L503.2 581.1 L503.1 578.1 L503.0 575.0 L502.9 572.0 L502.8 569.0 L502.8 565.9 L502.7 562.8 L502.7 559.8 L502.6 556.8 L502.6 553.7 L502.6 550.6 L502.6 547.6 L502.6 544.5 L502.6 541.5 L502.7 538.5 L502.7 535.4 L502.8 532.4 L503.0 529.3 L503.1 526.2 L503.4 523.2 L503.7 520.1 L504.1 517.1 L504.5 514.0 L505.0 511.0 L505.6 507.9 L506.2 504.9 L506.9 501.9 L507.6 498.8 L508.3 495.8 L508.9 492.7 L509.6 489.6 L510.3 486.6 L511.0 483.5 L511.8 480.5 L512.5 477.4 L513.2 474.4 L514.0 471.4 L514.8 468.3 L515.5 465.2 L516.2 462.2 L516.9 459.1 L517.6 456.1 L518.0 453.0 L518.4 450.0 L518.7 446.9 L519.0 443.9 L519.4 440.9 L519.6 437.8 L519.9 434.8 L520.1 431.7 L520.2 428.6 L520.3 425.6 L520.3 422.5 L520.2 419.5 L520.1 416.4 L519.9 413.4 L519.8 410.4 L519.5 407.3 L519.3 404.2 L519.0 401.2 L518.7 398.1 L518.4 395.1 L518.0 392.1 L517.7 389.0 L517.3 385.9 L517.0 382.9 L516.6 379.9 L516.2 376.8 L515.9 373.8 L515.5 370.7 L515.2 367.6 L514.9 364.6 L514.6 361.6 L514.3 358.5 L514.1 355.4 L513.9 352.4 L513.7 349.4 L513.5 346.3 L513.3 343.2 L513.1 340.2 L512.9 337.1 L512.7 334.1 L512.5 331.1 L512.4 328.0 L512.2 324.9 L512.0 321.9 L511.8 318.9 L511.6 315.8 L511.4 312.8 L511.2 309.7 L511.0 306.6 L510.8 303.6 L510.6 300.6 L510.3 297.5 L510.1 294.4 L509.9 291.4 L509.7 288.4 L509.5 285.3 L509.2 282.2Z"/>
<path d="M533.6 433.6 L533.2 436.6 L532.9 439.6 L532.6 442.7 L532.3 445.7 L532.0 448.7 L531.8 451.7 L531.6 454.7 L531.4 457.7 L531.3 460.8 L531.2 463.8 L531.0 466.8 L531.0 469.8 L530.9 472.8 L530.8 475.8 L530.8 478.9 L530.8 481.9 L530.8 484.9 L530.8 487.9 L530.8 490.9 L530.8 493.9 L530.8 497.0 L530.8 500.0 L530.9 503.0 L530.9 506.0 L531.0 509.0 L531.1 512.1 L531.2 515.1 L531.3 518.1 L531.4 521.1 L531.6 524.1 L531.7 527.1 L531.9 530.2 L532.0 533.2 L532.2 536.2 L532.3 539.2 L532.5 542.2 L532.7 545.2 L532.9 548.3 L533.1 551.3 L533.3 554.3 L533.5 557.3 L533.7 560.3 L533.9 563.3 L534.1 566.4 L534.3 569.4 L534.6 572.4 L534.8 575.4 L535.1 578.4 L535.3 581.5 L535.6 584.5 L535.8 587.5 L536.1 590.5 L536.3 593.5 L536.6 596.5 L536.8 599.6 L537.1 602.6 L537.3 605.6 L537.6 608.6 L537.8 611.6 L538.1 614.6 L538.3 617.7 L538.6 620.7 L538.8 623.7 L539.1 626.7 L539.4 629.7 L539.6 632.7 L539.9 635.8 L540.1 638.8 L540.4 641.8 L540.6 644.8 L540.9 647.8 L541.1 650.8 L541.4 653.9 L541.6 656.9 L541.9 659.9 L542.2 662.9 L542.4 665.9 L542.7 669.0 L542.9 672.0 L543.2 675.0 L543.4 678.0 L543.7 681.0 L543.9 684.0 L544.2 687.1 L544.4 690.1 L544.7 693.1 L545.0 696.1 L545.2 699.1 L545.4 702.1 L545.7 705.2 L545.9 708.2 L546.1 711.2 L546.2 714.2 L546.4 717.2 L546.5 720.2 L546.6 723.3 L546.7 726.3 L546.9 729.3 L547.0 732.3 L547.1 735.3 L547.3 738.4 L547.5 741.4 L547.7 744.4 L547.9 747.4 L548.1 750.4 L548.3 753.4 L548.5 756.5 L548.7 759.5 L548.9 762.5 L549.1 765.5 L549.3 768.5 L549.5 771.5 L549.7 774.6 L549.9 777.6 L550.0 780.6 L550.2 783.6 L550.4 786.6 L550.6 789.6 L550.7 792.7 L550.9 795.7 L551.0 798.7 L551.2 801.7 L551.4 804.7 L551.7 807.8 L552.0 810.8 L552.2 813.8 L552.2 816.8 L552.2 819.8 L552.2 822.8 L552.2 825.9 L552.2 828.9 L552.2 831.9 L552.2 834.9 L552.2 837.9 L552.2 840.9 L552.2 844.0 L552.2 847.0 L552.2 850.0 L552.2 853.0 L552.2 856.0 L552.2 859.0 L552.2 862.1 L552.2 865.1 L552.2 868.1 L552.2 871.1 L552.2 874.1 L552.2 877.1 L552.2 880.2 L552.2 883.2 L552.2 886.2 L552.2 889.2 L552.2 892.2 L552.2 895.3 L552.2 898.3 L552.2 901.3 L552.2 904.3 L552.2 907.3 L552.2 910.3 L552.2 913.4 L552.2 916.4 L552.2 919.4 L552.0 922.4 L551.7 925.4 L551.4 928.4 L551.2 931.5 L551.1 934.5 L551.0 937.5 L550.9 940.5 L550.8 943.5 L550.7 946.5 L550.6 949.6 L550.5 952.6 L550.4 955.6 L550.3 958.6 L550.2 961.6 L550.1 964.7 L550.0 967.7 L549.9 970.7 L549.8 973.7 L549.7 976.7 L549.6 979.7 L549.5 982.8 L549.4 985.8 L549.3 988.8 L549.2 991.8 L549.1 994.8 L549.0 997.8 L548.9 1000.9 L548.8 1003.9 L548.7 1006.9 L548.6 1009.9 L548.5 1012.9 L548.4 1015.9 L548.3 1019.0 L548.2 1022.0 L548.1 1025.0 L556.9 1025.0 L556.8 1022.0 L556.7 1019.0 L556.6 1015.9 L556.5 1012.9 L556.4 1009.9 L556.3 1006.9 L556.2 1003.9 L556.1 1000.9 L556.0 997.8 L555.9 994.8 L555.8 991.8 L555.7 988.8 L555.6 985.8 L555.5 982.8 L555.4 979.7 L555.3 976.7 L555.2 973.7 L555.1 970.7 L555.0 967.7 L554.9 964.7 L554.8 961.6 L554.7 958.6 L554.6 955.6 L554.5 952.6 L554.4 949.6 L554.3 946.5 L554.2 943.5 L554.1 940.5 L554.0 937.5 L553.9 934.5 L553.8 931.5 L553.6 928.4 L553.3 925.4 L553.0 922.4 L552.8 919.4 L552.8 916.4 L552.8 913.4 L552.8 910.3 L552.8 907.3 L552.8 904.3 L552.8 901.3 L552.8 898.3 L552.8 895.3 L552.8 892.2 L552.8 889.2 L552.8 886.2 L552.8 883.2 L552.8 880.2 L552.8 877.1 L552.8 874.1 L552.8 871.1 L552.8 868.1 L552.8 865.1 L552.8 862.1 L552.8 859.0 L552.8 856.0 L552.8 853.0 L552.8 850.0 L552.8 847.0 L552.8 844.0 L552.8 840.9 L552.8 837.9 L552.8 834.9 L552.8 831.9 L552.8 828.9 L552.8 825.9 L552.8 822.8 L552.8 819.8 L552.8 816.8 L552.8 813.8 L553.0 810.8 L553.3 807.8 L553.6 804.7 L553.8 801.7 L554.0 798.7 L554.1 795.7 L554.3 792.7 L554.4 789.6 L554.6 786.6 L554.8 783.6 L555.0 780.6 L555.1 777.6 L555.3 774.6 L555.5 771.5 L555.7 768.5 L555.9 765.5 L556.1 762.5 L556.3 759.5 L556.5 756.5 L556.7 753.4 L556.9 750.4 L557.1 747.4 L557.3 744.4 L557.5 741.4 L557.7 738.4 L557.9 735.3 L558.0 732.3 L558.1 729.3 L558.3 726.3 L558.4 723.3 L558.5 720.2 L558.6 717.2 L558.8 714.2 L558.9 711.2 L559.1 708.2 L559.3 705.2 L559.6 702.1 L559.8 699.1 L560.0 696.1 L560.3 693.1 L560.6 690.1 L560.8 687.1 L561.1 684.0 L561.3 681.0 L561.6 678.0 L561.8 675.0 L562.1 672.0 L562.3 669.0 L562.6 665.9 L562.8 662.9 L563.1 659.9 L563.4 656.9 L563.6 653.9 L563.9 650.8 L564.1 647.8 L564.4 644.8 L564.6 641.8 L564.9 638.8 L565.1 635.8 L565.4 632.7 L565.6 629.7 L565.9 626.7 L566.2 623.7 L566.4 620.7 L566.7 617.7 L566.9 614.6 L567.2 611.6 L567.4 608.6 L567.7 605.6 L567.9 602.6 L568.2 599.6 L568.4 596.5 L568.7 593.5 L568.9 590.5 L569.2 587.5 L569.4 584.5 L569.7 581.5 L569.9 578.4 L570.2 575.4 L570.4 572.4 L570.7 569.4 L570.9 566.4 L571.1 563.3 L571.3 560.3 L571.5 557.3 L571.7 554.3 L571.9 551.3 L572.1 548.3 L572.3 545.2 L572.5 542.2 L572.7 539.2 L572.8 536.2 L573.0 533.2 L573.1 530.2 L573.3 527.1 L573.4 524.1 L573.6 521.1 L573.7 518.1 L573.8 515.1 L573.9 512.1 L574.0 509.0 L574.1 506.0 L574.1 503.0 L574.2 500.0 L574.2 497.0 L574.2 493.9 L574.2 490.9 L574.2 487.9 L574.2 484.9 L574.2 481.9 L574.2 478.9 L574.2 475.8 L574.1 472.8 L574.0 469.8 L574.0 466.8 L573.8 463.8 L573.7 460.8 L573.6 457.7 L573.4 454.7 L573.2 451.7 L573.0 448.7 L572.7 445.7 L572.4 442.7 L572.1 439.6 L571.8 436.6 L571.4 433.6Z"/>
<path d="M603.9 351.1 L603.6 354.1 L603.3 357.1 L603.0 360.2 L602.7 363.2 L602.3 366.2 L602.0 369.2 L601.6 372.3 L601.3 375.3 L600.9 378.3 L600.5 381.3 L600.1 384.4 L599.7 387.4 L599.3 390.4 L598.9 393.4 L598.5 396.5 L598.1 399.5 L597.7 402.5 L597.3 405.5 L596.9 408.5 L596.5 411.6 L596.1 414.6 L595.7 417.6 L595.2 420.6 L594.8 423.7 L594.4 426.7 L594.0 429.7 L593.6 432.7 L593.2 435.8 L592.7 438.8 L592.2 441.8 L591.8 444.8 L591.3 447.9 L590.8 450.9 L590.2 453.9 L589.6 456.9 L588.9 459.9 L588.3 463.0 L587.6 466.0 L587.0 469.0 L586.5 472.0 L586.0 475.1 L585.6 478.1 L585.3 481.1 L585.1 484.1 L585.0 487.2 L584.9 490.2 L584.9 493.2 L585.0 496.2 L585.2 499.2 L585.4 502.3 L585.7 505.3 L586.1 508.3 L586.6 511.3 L587.1 514.4 L587.6 517.4 L588.2 520.4 L588.8 523.4 L589.5 526.5 L590.2 529.5 L590.9 532.5 L591.7 535.5 L592.6 538.6 L593.6 541.6 L594.6 544.6 L595.6 547.6 L596.4 550.6 L597.0 553.7 L597.6 556.7 L598.2 559.7 L598.7 562.7 L599.1 565.8 L599.6 568.8 L600.0 571.8 L600.4 574.8 L600.8 577.9 L601.2 580.9 L601.6 583.9 L601.9 586.9 L602.2 590.0 L602.4 593.0 L602.7 596.0 L602.9 599.0 L603.0 602.0 L603.2 605.1 L603.3 608.1 L603.4 611.1 L603.5 614.1 L603.6 617.2 L603.6 620.2 L603.7 623.2 L603.9 626.2 L604.0 629.3 L604.2 632.3 L604.3 635.3 L604.6 638.3 L604.8 641.4 L605.1 644.4 L605.4 647.4 L605.6 650.4 L606.0 653.4 L606.3 656.5 L606.6 659.5 L606.6 662.5 L606.6 665.5 L606.6 668.6 L606.6 671.6 L606.6 674.6 L606.6 677.6 L606.6 680.7 L606.6 683.7 L606.6 686.7 L606.6 689.7 L606.6 692.7 L606.6 695.8 L606.6 698.8 L606.6 701.8 L606.6 704.8 L606.6 707.9 L606.6 710.9 L606.6 713.9 L606.6 716.9 L606.6 720.0 L606.6 723.0 L606.6 726.0 L606.6 729.0 L606.6 732.1 L606.6 735.1 L606.6 738.1 L606.6 741.1 L606.6 744.1 L606.6 747.2 L606.6 750.2 L606.6 753.2 L606.6 756.2 L606.6 759.3 L606.6 762.3 L606.6 765.3 L606.6 768.3 L606.6 771.4 L606.6 774.4 L606.6 777.4 L606.6 780.4 L606.6 783.5 L606.6 786.5 L606.6 789.5 L606.6 792.5 L606.6 795.5 L606.6 798.6 L606.6 801.6 L606.6 804.6 L606.6 807.6 L606.6 810.7 L606.6 813.7 L606.6 816.7 L606.6 819.7 L606.6 822.8 L606.6 825.8 L606.6 828.8 L606.6 831.8 L606.6 834.9 L606.6 837.9 L606.6 840.9 L606.6 843.9 L606.6 846.9 L606.6 850.0 L606.6 853.0 L606.6 856.0 L606.6 859.0 L606.6 862.1 L606.6 865.1 L606.6 868.1 L606.6 871.1 L606.6 874.2 L606.6 877.2 L606.6 880.2 L606.6 883.2 L606.6 886.2 L606.6 889.3 L606.6 892.3 L606.6 895.3 L606.6 898.3 L606.6 901.4 L606.6 904.4 L606.6 907.4 L606.6 910.4 L606.6 913.5 L606.6 916.5 L606.6 919.5 L606.6 922.5 L606.6 925.6 L606.6 928.6 L606.6 931.6 L606.6 934.6 L606.6 937.6 L606.6 940.7 L606.6 943.7 L606.6 946.7 L606.6 949.7 L606.6 952.8 L606.6 955.8 L606.6 958.8 L606.6 961.8 L606.6 964.9 L606.6 967.9 L606.6 970.9 L606.5 973.9 L606.4 977.0 L606.2 980.0 L606.1 983.0 L607.7 983.0 L607.6 980.0 L607.4 977.0 L607.3 973.9 L607.2 970.9 L607.2 967.9 L607.2 964.9 L607.2 961.8 L607.2 958.8 L607.2 955.8 L607.2 952.8 L607.2 949.7 L607.2 946.7 L607.2 943.7 L607.2 940.7 L607.2 937.6 L607.2 934.6 L607.2 931.6 L607.2 928.6 L607.2 925.6 L607.2 922.5 L607.2 919.5 L607.2 916.5 L607.2 913.5 L607.2 910.4 L607.2 907.4 L607.2 904.4 L607.2 901.4 L607.2 898.3 L607.2 895.3 L607.2 892.3 L607.2 889.3 L607.2 886.2 L607.2 883.2 L607.2 880.2 L607.2 877.2 L607.2 874.2 L607.2 871.1 L607.2 868.1 L607.2 865.1 L607.2 862.1 L607.2 859.0 L607.2 856.0 L607.2 853.0 L607.2 850.0 L607.2 846.9 L607.2 843.9 L607.2 840.9 L607.2 837.9 L607.2 834.9 L607.2 831.8 L607.2 828.8 L607.2 825.8 L607.2 822.8 L607.2 819.7 L607.2 816.7 L607.2 813.7 L607.2 810.7 L607.2 807.6 L607.2 804.6 L607.2 801.6 L607.2 798.6 L607.2 795.5 L607.2 792.5 L607.2 789.5 L607.2 786.5 L607.2 783.5 L607.2 780.4 L607.2 777.4 L607.2 774.4 L607.2 771.4 L607.2 768.3 L607.2 765.3 L607.2 762.3 L607.2 759.3 L607.2 756.2 L607.2 753.2 L607.2 750.2 L607.2 747.2 L607.2 744.1 L607.2 741.1 L607.2 738.1 L607.2 735.1 L607.2 732.1 L607.2 729.0 L607.2 726.0 L607.2 723.0 L607.2 720.0 L607.2 716.9 L607.2 713.9 L607.2 710.9 L607.2 707.9 L607.2 704.8 L607.2 701.8 L607.2 698.8 L607.2 695.8 L607.2 692.7 L607.2 689.7 L607.2 686.7 L607.2 683.7 L607.2 680.7 L607.2 677.6 L607.2 674.6 L607.2 671.6 L607.2 668.6 L607.2 665.5 L607.2 662.5 L607.2 659.5 L607.5 656.5 L607.8 653.4 L608.2 650.4 L608.4 647.4 L608.7 644.4 L609.0 641.4 L609.2 638.3 L609.5 635.3 L609.6 632.3 L609.8 629.3 L609.9 626.2 L610.1 623.2 L610.2 620.2 L610.2 617.2 L610.3 614.1 L610.4 611.1 L610.5 608.1 L610.6 605.1 L610.8 602.0 L610.9 599.0 L611.1 596.0 L611.4 593.0 L611.6 590.0 L611.9 586.9 L612.2 583.9 L612.6 580.9 L613.0 577.9 L613.4 574.8 L613.8 571.8 L614.2 568.8 L614.7 565.8 L615.1 562.7 L615.6 559.7 L616.2 556.7 L616.8 553.7 L617.4 550.6 L618.2 547.6 L619.2 544.6 L620.2 541.6 L621.2 538.6 L622.1 535.5 L622.9 532.5 L623.6 529.5 L624.3 526.5 L625.0 523.4 L625.6 520.4 L626.2 517.4 L626.7 514.4 L627.2 511.3 L627.7 508.3 L628.1 505.3 L628.4 502.3 L628.6 499.2 L628.8 496.2 L628.9 493.2 L628.9 490.2 L628.8 487.2 L628.7 484.1 L628.5 481.1 L628.2 478.1 L627.8 475.1 L627.3 472.0 L626.8 469.0 L626.2 466.0 L625.5 463.0 L624.9 459.9 L624.2 456.9 L623.6 453.9 L623.0 450.9 L622.5 447.9 L622.0 444.8 L621.6 441.8 L621.1 438.8 L620.6 435.8 L620.2 432.7 L619.8 429.7 L619.4 426.7 L619.0 423.7 L618.6 420.6 L618.1 417.6 L617.7 414.6 L617.3 411.6 L616.9 408.5 L616.5 405.5 L616.1 402.5 L615.7 399.5 L615.3 396.5 L614.9 393.4 L614.5 390.4 L614.1 387.4 L613.7 384.4 L613.3 381.3 L612.9 378.3 L612.5 375.3 L612.2 372.3 L611.8 369.2 L611.5 366.2 L611.1 363.2 L610.8 360.2 L610.5 357.1 L610.2 354.1 L609.9 351.1Z"/>
</g>
<g fill-opacity="0.6" stroke-opacity="0.6" stroke-width="1.6">
<circle cx="112.8" cy="315.0" r="5.10" fill="#729ECE" stroke="#729ECE"/>
<circle cx="125.6" cy="354.2" r="5.10" fill="#729ECE" stroke="#729ECE"/>
<circle cx="109.0" cy="386.2" r="5.10" fill="#729ECE" stroke="#729ECE"/>
<circle cx="97.9" cy="396.9" r="5.10" fill="#729ECE" stroke="#729ECE"/>
<circle cx="119.6" cy="395.9" r="5.10" fill="#729ECE" stroke="#729ECE"/>
<circle cx="133.4" cy="400.9" r="5.10" fill="#729ECE" stroke="#729ECE"/>
<circle cx="111.5" cy="404.6" r="5.10" fill="#729ECE" stroke="#729ECE"/>
<circle cx="120.9" cy="434.8" r="5.10" fill="#729ECE" stroke="#729ECE"/>
<circle cx="109.4" cy="466.4" r="5.10" fill="#729ECE" stroke="#729ECE"/>
<circle cx="120.0" cy="509.5" r="5.10" fill="#729ECE" stroke="#729ECE"/>
<circle cx="114.6" cy="617.5" r="5.10" fill="#729ECE" stroke="#729ECE"/>
<circle cx="116.9" cy="678.8" r="5.10" fill="#729ECE" stroke="#729ECE"/>
<circle cx="169.0" cy="128.2" r="5.10" fill="#729ECE" stroke="#729ECE"/>
<circle cx="175.2" cy="143.0" r="5.10" fill="#729ECE" stroke="#729ECE"/>
<circle cx="170.8" cy="157.2" r="5.10" fill="#729ECE" stroke="#729ECE"/>
<circle cx="177.1" cy="188.8" r="5.10" fill="#729ECE" stroke="#729ECE"/>
<circle cx="162.2" cy="195.4" r="5.10" fill="#729ECE" stroke="#729ECE"/>
<circle cx="166.0" cy="196.0" r="5.10" fill="#729ECE" stroke="#729ECE"/>
<circle cx="182.1" cy="195.8" r="5.10" fill="#729ECE" stroke="#729ECE"/>
<circle cx="174.0" cy="202.2" r="5.10" fill="#729ECE" stroke="#729ECE"/>
<circle cx="155.2" cy="205.6" r="5.10" fill="#729ECE" stroke="#729ECE"/>
<circle cx="186.5" cy="207.2" r="5.10" fill="#729ECE" stroke="#729ECE"/>
<circle cx="166.9" cy="209.8" r="5.10" fill="#729ECE" stroke="#729ECE"/>
<circle cx="176.9" cy="210.8" r="5.10" fill="#729ECE" stroke="#729ECE"/>
<circle cx="156.2" cy="214.8" r="5.10" fill="#729ECE" stroke="#729ECE"/>
<circle cx="161.2" cy="219.8" r="5.10" fill="#729ECE" stroke="#729ECE"/>
<circle cx="171.9" cy="220.0" r="5.10" fill="#729ECE" stroke="#729ECE"/>
<circle cx="182.8" cy="219.1" r="5.10" fill="#729ECE" stroke="#729ECE"/>
<circle cx="150.2" cy="223.2" r="5.10" fill="#729ECE" stroke="#729ECE"/>
<circle cx="192.1" cy="236.0" r="5.10" fill="#729ECE" stroke="#729ECE"/>
<circle cx="169.8" cy="236.9" r="5.10" fill="#729ECE" stroke="#729ECE"/>
<circle cx="158.8" cy="244.1" r="5.10" fill="#729ECE" stroke="#729ECE"/>
<circle cx="180.4" cy="242.0" r="5.10" fill="#729ECE" stroke="#729ECE"/>
<circle cx="164.4" cy="246.6" r="5.10" fill="#729ECE" stroke="#729ECE"/>
<circle cx="186.0" cy="245.8" r="5.10" fill="#729ECE" stroke="#729ECE"/>
<circle cx="175.0" cy="251.0" r="5.10" fill="#729ECE" stroke="#729ECE"/>
<circle cx="154.4" cy="253.1" r="5.10" fill="#729ECE" stroke="#729ECE"/>
<circle cx="188.1" cy="257.2" r="5.10" fill="#729ECE" stroke="#729ECE"/>
<circle cx="167.5" cy="260.4" r="5.10" fill="#729ECE" stroke="#729ECE"/>
<circle cx="177.5" cy="262.2" r="5.10" fill="#729ECE" stroke="#729ECE"/>
<circle cx="158.5" cy="272.9" r="5.10" fill="#729ECE" stroke="#729ECE"/>
<circle cx="181.9" cy="275.4" r="5.10" fill="#729ECE" stroke="#729ECE"/>
<circle cx="163.1" cy="279.8" r="5.10" fill="#729ECE" stroke="#729ECE"/>
<circle cx="172.5" cy="284.5" r="5.10" fill="#729ECE" stroke="#729ECE"/>
<circle cx="155.2" cy="293.9" r="5.10" fill="#729ECE" stroke="#729ECE"/>
<circle cx="186.5" cy="295.0" r="5.10" fill="#729ECE" stroke="#729ECE"/>
<circle cx="169.0" cy="301.6" r="5.10" fill="#729ECE" stroke="#729ECE"/>
<circle cx="176.9" cy="302.2" r="5.10" fill="#729ECE" stroke="#729ECE"/>
<circle cx="161.5" cy="305.4" r="5.10" fill="#729ECE" stroke="#729ECE"/>
<circle cx="180.6" cy="307.2" r="5.10" fill="#729ECE" stroke="#729ECE"/>
<circle cx="165.4" cy="311.5" r="5.10" fill="#729ECE" stroke="#729ECE"/>
<circle cx="173.1" cy="316.5" r="5.10" fill="#729ECE" stroke="#729ECE"/>
<circle cx="159.4" cy="322.5" r="5.10" fill="#729ECE" stroke="#729ECE"/>
<circle cx="180.9" cy="328.0" r="5.10" fill="#729ECE" stroke="#729ECE"/>
<circle cx="168.8" cy="340.2" r="5.10" fill="#729ECE" stroke="#729ECE"/>
<circle cx="165.4" cy="356.8" r="5.10" fill="#729ECE" stroke="#729ECE"/>
<circle cx="173.1" cy="355.2" r="5.10" fill="#729ECE" stroke="#729ECE"/>
<circle cx="175.2" cy="357.1" r="5.10" fill="#729ECE" stroke="#729ECE"/>
<circle cx="170.9" cy="418.6" r="5.10" fill="#729ECE" stroke="#729ECE"/>
<circle cx="171.2" cy="690.6" r="5.10" fill="#729ECE" stroke="#729ECE"/>
<circle cx="230.2" cy="318.5" r="5.10" fill="#729ECE" stroke="#729ECE"/>
<circle cx="216.5" cy="336.2" r="5.10" fill="#729ECE" stroke="#729ECE"/>
<circle cx="235.9" cy="343.8" r="5.10" fill="#729ECE" stroke="#729ECE"/>
<circle cx="219.6" cy="348.0" r="5.10" fill="#729ECE" stroke="#729ECE"/>
<circle cx="228.1" cy="376.5" r="5.10" fill="#729ECE" stroke="#729ECE"/>
<circle cx="207.2" cy="410.9" r="5.10" fill="#729ECE" stroke="#729ECE"/>
<circle cx="241.9" cy="414.4" r="5.10" fill="#729ECE" stroke="#729ECE"/>
<circle cx="220.4" cy="424.9" r="5.10" fill="#729ECE" stroke="#729ECE"/>
<circle cx="210.4" cy="442.8" r="5.10" fill="#729ECE" stroke="#729ECE"/>
<circle cx="230.9" cy="439.9" r="5.10" fill="#729ECE" stroke="#729ECE"/>
<circle cx="235.9" cy="445.8" r="5.10" fill="#729ECE" stroke="#729ECE"/>
<circle cx="218.1" cy="466.1" r="5.10" fill="#729ECE" stroke="#729ECE"/>
<circle cx="225.6" cy="642.5" r="5.10" fill="#729ECE" stroke="#729ECE"/>
<circle cx="276.9" cy="150.2" r="5.10" fill="#729ECE" stroke="#729ECE"/>
<circle cx="295.0" cy="197.0" r="5.10" fill="#729ECE" stroke="#729ECE"/>
<circle cx="278.9" cy="206.1" r="5.10" fill="#729ECE" stroke="#729ECE"/>
<circle cx="268.6" cy="211.6" r="5.10" fill="#729ECE" stroke="#729ECE"/>
<circle cx="273.6" cy="213.5" r="5.10" fill="#729ECE" stroke="#729ECE"/>
<circle cx="289.0" cy="209.5" r="5.10" fill="#729ECE" stroke="#729ECE"/>
<circle cx="293.8" cy="212.0" r="5.10" fill="#729ECE" stroke="#729ECE"/>
<circle cx="283.9" cy="216.1" r="5.10" fill="#729ECE" stroke="#729ECE"/>
<circle cx="262.6" cy="223.2" r="5.10" fill="#729ECE" stroke="#729ECE"/>
<circle cx="297.5" cy="225.7" r="5.10" fill="#729ECE" stroke="#729ECE"/>
<circle cx="276.2" cy="232.9" r="5.10" fill="#729ECE" stroke="#729ECE"/>
<circle cx="286.9" cy="233.8" r="5.10" fill="#729ECE" stroke="#729ECE"/>
<circle cx="265.6" cy="241.0" r="5.10" fill="#729ECE" stroke="#729ECE"/>
<circle cx="292.1" cy="241.9" r="5.10" fill="#729ECE" stroke="#729ECE"/>
<circle cx="271.2" cy="246.4" r="5.10" fill="#729ECE" stroke="#729ECE"/>
<circle cx="281.5" cy="255.0" r="5.10" fill="#729ECE" stroke="#729ECE"/>
<circle cx="263.4" cy="258.5" r="5.10" fill="#729ECE" stroke="#729ECE"/>
<circle cx="295.6" cy="264.5" r="5.10" fill="#729ECE" stroke="#729ECE"/>
<circle cx="278.4" cy="295.4" r="5.10" fill="#729ECE" stroke="#729ECE"/>
<circle cx="285.6" cy="299.1" r="5.10" fill="#729ECE" stroke="#729ECE"/>
<circle cx="271.2" cy="304.5" r="5.10" fill="#729ECE" stroke="#729ECE"/>
<circle cx="289.2" cy="306.9" r="5.10" fill="#729ECE" stroke="#729ECE"/>
<circle cx="274.8" cy="314.5" r="5.10" fill="#729ECE" stroke="#729ECE"/>
<circle cx="281.9" cy="320.1" r="5.10" fill="#729ECE" stroke="#729ECE"/>
<circle cx="267.8" cy="328.4" r="5.10" fill="#729ECE" stroke="#729ECE"/>
<circle cx="290.4" cy="345.2" r="5.10" fill="#729ECE" stroke="#729ECE"/>
<circle cx="276.9" cy="350.2" r="5.10" fill="#729ECE" stroke="#729ECE"/>
<circle cx="283.8" cy="351.8" r="5.10" fill="#729ECE" stroke="#729ECE"/>
<circle cx="271.9" cy="363.4" r="5.10" fill="#729ECE" stroke="#729ECE"/>
<circle cx="285.6" cy="368.0" r="5.10" fill="#729ECE" stroke="#729ECE"/>
<circle cx="276.0" cy="377.5" r="5.10" fill="#729ECE" stroke="#729ECE"/>
<circle cx="280.2" cy="433.8" r="5.10" fill="#729ECE" stroke="#729ECE"/>
<circle cx="333.9" cy="95.0" r="5.10" fill="#729ECE" stroke="#729ECE"/>
<circle cx="334.8" cy="115.9" r="5.10" fill="#729ECE" stroke="#729ECE"/>
<circle cx="323.4" cy="125.6" r="5.10" fill="#729ECE" stroke="#729ECE"/>
<circle cx="346.0" cy="126.2" r="5.10" fill="#729ECE" stroke="#729ECE"/>
<circle cx="333.5" cy="133.1" r="5.10" fill="#729ECE" stroke="#729ECE"/>
<circle cx="341.9" cy="134.0" r="5.10" fill="#729ECE" stroke="#729ECE"/>
<circle cx="325.2" cy="136.9" r="5.10" fill="#729ECE" stroke="#729ECE"/>
<circle cx="328.2" cy="140.0" r="5.10" fill="#729ECE" stroke="#729ECE"/>
<circle cx="338.1" cy="140.6" r="5.10" fill="#729ECE" stroke="#729ECE"/>
<circle cx="346.9" cy="138.5" r="5.10" fill="#729ECE" stroke="#729ECE"/>
<circle cx="317.8" cy="148.1" r="5.10" fill="#729ECE" stroke="#729ECE"/>
<circle cx="351.9" cy="149.4" r="5.10" fill="#729ECE" stroke="#729ECE"/>
<circle cx="319.0" cy="153.8" r="5.10" fill="#729ECE" stroke="#729ECE"/>
<circle cx="330.8" cy="152.5" r="5.10" fill="#729ECE" stroke="#729ECE"/>
<circle cx="341.0" cy="153.1" r="5.10" fill="#729ECE" stroke="#729ECE"/>
<circle cx="347.0" cy="154.4" r="5.10" fill="#729ECE" stroke="#729ECE"/>
<circle cx="325.4" cy="156.9" r="5.10" fill="#729ECE" stroke="#729ECE"/>
<circle cx="335.6" cy="160.0" r="5.10" fill="#729ECE" stroke="#729ECE"/>
<circle cx="315.0" cy="163.8" r="5.10" fill="#729ECE" stroke="#729ECE"/>
<circle cx="352.1" cy="165.2" r="5.10" fill="#729ECE" stroke="#729ECE"/>
<circle cx="322.5" cy="168.1" r="5.10" fill="#729ECE" stroke="#729ECE"/>
<circle cx="332.6" cy="166.2" r="5.10" fill="#729ECE" stroke="#729ECE"/>
<circle cx="342.5" cy="167.1" r="5.10" fill="#729ECE" stroke="#729ECE"/>
<circle cx="346.2" cy="168.4" r="5.10" fill="#729ECE" stroke="#729ECE"/>
<circle cx="328.5" cy="175.6" r="5.10" fill="#729ECE" stroke="#729ECE"/>
<circle cx="336.4" cy="181.5" r="5.10" fill="#729ECE" stroke="#729ECE"/>
<circle cx="325.2" cy="188.1" r="5.10" fill="#729ECE" stroke="#729ECE"/>
<circle cx="342.2" cy="191.2" r="5.10" fill="#729ECE" stroke="#729ECE"/>
<circle cx="332.2" cy="198.8" r="5.10" fill="#729ECE" stroke="#729ECE"/>
<circle cx="328.8" cy="203.1" r="5.10" fill="#729ECE" stroke="#729ECE"/>
<circle cx="336.9" cy="201.5" r="5.10" fill="#729ECE" stroke="#729ECE"/>
<circle cx="332.5" cy="234.8" r="5.10" fill="#729ECE" stroke="#729ECE"/>
<circle cx="336.2" cy="232.0" r="5.10" fill="#729ECE" stroke="#729ECE"/>
<circle cx="334.8" cy="479.2" r="5.10" fill="#729ECE" stroke="#729ECE"/>
<circle cx="382.1" cy="131.5" r="5.10" fill="#729ECE" stroke="#729ECE"/>
<circle cx="391.5" cy="136.6" r="5.10" fill="#729ECE" stroke="#729ECE"/>
<circle cx="370.9" cy="151.5" r="5.10" fill="#729ECE" stroke="#729ECE"/>
<circle cx="404.8" cy="155.6" r="5.10" fill="#729ECE" stroke="#729ECE"/>
<circle cx="383.9" cy="200.6" r="5.10" fill="#729ECE" stroke="#729ECE"/>
<circle cx="394.5" cy="227.2" r="5.10" fill="#729ECE" stroke="#729ECE"/>
<circle cx="373.4" cy="239.1" r="5.10" fill="#729ECE" stroke="#729ECE"/>
<circle cx="399.6" cy="241.4" r="5.10" fill="#729ECE" stroke="#729ECE"/>
<circle cx="380.9" cy="262.9" r="5.10" fill="#729ECE" stroke="#729ECE"/>
<circle cx="389.1" cy="564.2" r="5.10" fill="#729ECE" stroke="#729ECE"/>
<circle cx="437.7" cy="194.4" r="5.10" fill="#FF9E4A" stroke="#FF9E4A"/>
<circle cx="445.9" cy="215.0" r="5.10" fill="#FF9E4A" stroke="#FF9E4A"/>
<circle cx="425.2" cy="241.0" r="5.10" fill="#FF9E4A" stroke="#FF9E4A"/>
<circle cx="460.0" cy="278.8" r="5.10" fill="#FF9E4A" stroke="#FF9E4A"/>
<circle cx="438.1" cy="284.4" r="5.10" fill="#FF9E4A" stroke="#FF9E4A"/>
<circle cx="448.5" cy="343.1" r="5.10" fill="#FF9E4A" stroke="#FF9E4A"/>
<circle cx="429.6" cy="368.8" r="5.10" fill="#FF9E4A" stroke="#FF9E4A"/>
<circle cx="452.1" cy="385.2" r="5.10" fill="#FF9E4A" stroke="#FF9E4A"/>
<circle cx="438.4" cy="447.9" r="5.10" fill="#FF9E4A" stroke="#FF9E4A"/>
<circle cx="443.5" cy="736.5" r="5.10" fill="#FF9E4A" stroke="#FF9E4A"/>
<circle cx="502.1" cy="281.9" r="5.10" fill="#FF9E4A" stroke="#FF9E4A"/>
<circle cx="490.0" cy="305.3" r="5.10" fill="#FF9E4A" stroke="#FF9E4A"/>
<circle cx="506.9" cy="321.8" r="5.10" fill="#FF9E4A" stroke="#FF9E4A"/>
<circle cx="492.1" cy="341.5" r="5.10" fill="#FF9E4A" stroke="#FF9E4A"/>
<circle cx="479.8" cy="404.2" r="5.10" fill="#FF9E4A" stroke="#FF9E4A"/>
<circle cx="500.6" cy="404.0" r="5.10" fill="#FF9E4A" stroke="#FF9E4A"/>
<circle cx="514.1" cy="413.0" r="5.10" fill="#FF9E4A" stroke="#FF9E4A"/>
<circle cx="492.5" cy="430.0" r="5.10" fill="#FF9E4A" stroke="#FF9E4A"/>
<circle cx="503.1" cy="450.0" r="5.10" fill="#FF9E4A" stroke="#FF9E4A"/>
<circle cx="484.1" cy="459.1" r="5.10" fill="#FF9E4A" stroke="#FF9E4A"/>
<circle cx="507.1" cy="460.4" r="5.10" fill="#FF9E4A" stroke="#FF9E4A"/>
<circle cx="495.0" cy="593.8" r="5.10" fill="#FF9E4A" stroke="#FF9E4A"/>
<circle cx="498.0" cy="633.1" r="5.10" fill="#FF9E4A" stroke="#FF9E4A"/>
<circle cx="545.6" cy="433.4" r="5.10" fill="#FF9E4A" stroke="#FF9E4A"/>
<circle cx="555.0" cy="439.0" r="5.10" fill="#FF9E4A" stroke="#FF9E4A"/>
<circle cx="535.0" cy="450.7" r="5.10" fill="#FF9E4A" stroke="#FF9E4A"/>
<circle cx="568.6" cy="479.2" r="5.10" fill="#FF9E4A" stroke="#FF9E4A"/>
<circle cx="547.2" cy="518.6" r="5.10" fill="#FF9E4A" stroke="#FF9E4A"/>
<circle cx="557.2" cy="557.0" r="5.10" fill="#FF9E4A" stroke="#FF9E4A"/>
<circle cx="539.3" cy="571.4" r="5.10" fill="#FF9E4A" stroke="#FF9E4A"/>
<circle cx="559.0" cy="627.3" r="5.10" fill="#FF9E4A" stroke="#FF9E4A"/>
<circle cx="548.8" cy="700.8" r="5.10" fill="#FF9E4A" stroke="#FF9E4A"/>
<circle cx="552.5" cy="1025.0" r="5.10" fill="#FF9E4A" stroke="#FF9E4A"/>
<circle cx="604.7" cy="351.1" r="5.10" fill="#FF9E4A" stroke="#FF9E4A"/>
<circle cx="610.9" cy="369.4" r="5.10" fill="#FF9E4A" stroke="#FF9E4A"/>
<circle cx="606.7" cy="383.7" r="5.10" fill="#FF9E4A" stroke="#FF9E4A"/>
<circle cx="610.2" cy="386.9" r="5.10" fill="#FF9E4A" stroke="#FF9E4A"/>
<circle cx="602.5" cy="401.0" r="5.10" fill="#FF9E4A" stroke="#FF9E4A"/>
<circle cx="613.6" cy="402.7" r="5.10" fill="#FF9E4A" stroke="#FF9E4A"/>
<circle cx="605.1" cy="412.0" r="5.10" fill="#FF9E4A" stroke="#FF9E4A"/>
<circle cx="609.2" cy="412.2" r="5.10" fill="#FF9E4A" stroke="#FF9E4A"/>
<circle cx="597.6" cy="419.7" r="5.10" fill="#FF9E4A" stroke="#FF9E4A"/>
<circle cx="617.0" cy="420.8" r="5.10" fill="#FF9E4A" stroke="#FF9E4A"/>
<circle cx="605.1" cy="424.2" r="5.10" fill="#FF9E4A" stroke="#FF9E4A"/>
<circle cx="598.3" cy="434.2" r="5.10" fill="#FF9E4A" stroke="#FF9E4A"/>
<circle cx="601.6" cy="436.2" r="5.10" fill="#FF9E4A" stroke="#FF9E4A"/>
<circle cx="607.7" cy="436.7" r="5.10" fill="#FF9E4A" stroke="#FF9E4A"/>
<circle cx="611.4" cy="433.3" r="5.10" fill="#FF9E4A" stroke="#FF9E4A"/>
<circle cx="615.4" cy="435.8" r="5.10" fill="#FF9E4A" stroke="#FF9E4A"/>
<circle cx="593.6" cy="447.2" r="5.10" fill="#FF9E4A" stroke="#FF9E4A"/>
<circle cx="622.0" cy="456.7" r="5.10" fill="#FF9E4A" stroke="#FF9E4A"/>
<circle cx="605.1" cy="459.7" r="5.10" fill="#FF9E4A" stroke="#FF9E4A"/>
<circle cx="595.9" cy="467.2" r="5.10" fill="#FF9E4A" stroke="#FF9E4A"/>
<circle cx="614.2" cy="466.1" r="5.10" fill="#FF9E4A" stroke="#FF9E4A"/>
<circle cx="590.3" cy="474.2" r="5.10" fill="#FF9E4A" stroke="#FF9E4A"/>
<circle cx="600.6" cy="473.3" r="5.10" fill="#FF9E4A" stroke="#FF9E4A"/>
<circle cx="610.9" cy="473.8" r="5.10" fill="#FF9E4A" stroke="#FF9E4A"/>
<circle cx="618.9" cy="471.4" r="5.10" fill="#FF9E4A" stroke="#FF9E4A"/>
<circle cx="622.7" cy="474.7" r="5.10" fill="#FF9E4A" stroke="#FF9E4A"/>
<circle cx="591.7" cy="479.8" r="5.10" fill="#FF9E4A" stroke="#FF9E4A"/>
<circle cx="612.8" cy="479.8" r="5.10" fill="#FF9E4A" stroke="#FF9E4A"/>
<circle cx="618.0" cy="482.2" r="5.10" fill="#FF9E4A" stroke="#FF9E4A"/>
<circle cx="596.9" cy="485.5" r="5.10" fill="#FF9E4A" stroke="#FF9E4A"/>
<circle cx="585.4" cy="490.2" r="5.10" fill="#FF9E4A" stroke="#FF9E4A"/>
<circle cx="607.7" cy="490.0" r="5.10" fill="#FF9E4A" stroke="#FF9E4A"/>
<circle cx="627.6" cy="493.0" r="5.10" fill="#FF9E4A" stroke="#FF9E4A"/>
<circle cx="594.5" cy="498.6" r="5.10" fill="#FF9E4A" stroke="#FF9E4A"/>
<circle cx="605.8" cy="496.7" r="5.10" fill="#FF9E4A" stroke="#FF9E4A"/>
<circle cx="616.1" cy="497.2" r="5.10" fill="#FF9E4A" stroke="#FF9E4A"/>
<circle cx="622.2" cy="499.5" r="5.10" fill="#FF9E4A" stroke="#FF9E4A"/>
<circle cx="589.4" cy="504.2" r="5.10" fill="#FF9E4A" stroke="#FF9E4A"/>
<circle cx="600.6" cy="501.9" r="5.10" fill="#FF9E4A" stroke="#FF9E4A"/>
<circle cx="610.9" cy="502.8" r="5.10" fill="#FF9E4A" stroke="#FF9E4A"/>
<circle cx="623.1" cy="511.9" r="5.10" fill="#FF9E4A" stroke="#FF9E4A"/>
<circle cx="603.2" cy="514.5" r="5.10" fill="#FF9E4A" stroke="#FF9E4A"/>
<circle cx="590.3" cy="523.4" r="5.10" fill="#FF9E4A" stroke="#FF9E4A"/>
<circle cx="594.1" cy="521.6" r="5.10" fill="#FF9E4A" stroke="#FF9E4A"/>
<circle cx="599.7" cy="523.0" r="5.10" fill="#FF9E4A" stroke="#FF9E4A"/>
<circle cx="606.2" cy="524.4" r="5.10" fill="#FF9E4A" stroke="#FF9E4A"/>
<circle cx="612.3" cy="520.2" r="5.10" fill="#FF9E4A" stroke="#FF9E4A"/>
<circle cx="617.5" cy="523.4" r="5.10" fill="#FF9E4A" stroke="#FF9E4A"/>
<circle cx="622.7" cy="523.9" r="5.10" fill="#FF9E4A" stroke="#FF9E4A"/>
<circle cx="605.3" cy="528.1" r="5.10" fill="#FF9E4A" stroke="#FF9E4A"/>
<circle cx="612.8" cy="533.0" r="5.10" fill="#FF9E4A" stroke="#FF9E4A"/>
<circle cx="598.8" cy="542.2" r="5.10" fill="#FF9E4A" stroke="#FF9E4A"/>
<circle cx="602.5" cy="545.5" r="5.10" fill="#FF9E4A" stroke="#FF9E4A"/>
<circle cx="614.9" cy="543.1" r="5.10" fill="#FF9E4A" stroke="#FF9E4A"/>
<circle cx="607.9" cy="557.5" r="5.10" fill="#FF9E4A" stroke="#FF9E4A"/>
<circle cx="600.6" cy="568.7" r="5.10" fill="#FF9E4A" stroke="#FF9E4A"/>
<circle cx="612.2" cy="571.0" r="5.10" fill="#FF9E4A" stroke="#FF9E4A"/>
<circle cx="605.5" cy="580.6" r="5.10" fill="#FF9E4A" stroke="#FF9E4A"/>
<circle cx="607.9" cy="595.0" r="5.10" fill="#FF9E4A" stroke="#FF9E4A"/>
<circle cx="604.4" cy="615.9" r="5.10" fill="#FF9E4A" stroke="#FF9E4A"/>
<circle cx="608.6" cy="623.5" r="5.10" fill="#FF9E4A" stroke="#FF9E4A"/>
<circle cx="605.9" cy="638.8" r="5.10" fill="#FF9E4A" stroke="#FF9E4A"/>
<circle cx="606.9" cy="983.1" r="5.10" fill="#FF9E4A" stroke="#FF9E4A"/>
<circle cx="602.8" cy="475.5" r="5.10" fill="#FF9E4A" stroke="#FF9E4A"/>
<circle cx="621.0" cy="472.5" r="5.10" fill="#FF9E4A" stroke="#FF9E4A"/>
<circle cx="615.6" cy="474.2" r="5.10" fill="#FF9E4A" stroke="#FF9E4A"/>
<circle cx="603.0" cy="523.8" r="5.10" fill="#FF9E4A" stroke="#FF9E4A"/>
<circle cx="614.8" cy="524.5" r="5.10" fill="#FF9E4A" stroke="#FF9E4A"/>
<circle cx="609.5" cy="522.5" r="5.10" fill="#FF9E4A" stroke="#FF9E4A"/>
</g>
<g stroke="#000" stroke-width="3" fill="none">
<path d="M84.3 47 V1071.5 H640.6" stroke-linecap="butt" stroke-linejoin="miter"/>
<path d="M77.3 84.4 H84.3"/>
<path d="M77.3 289.4 H84.3"/>
<path d="M77.3 494.4 H84.3"/>
<path d="M77.3 699.4 H84.3"/>
<path d="M77.3 904.4 H84.3"/>
<path d="M117.0 1071.5 V1078.2"/>
<path d="M171.4 1071.5 V1078.2"/>
<path d="M225.9 1071.5 V1078.2"/>
<path d="M280.3 1071.5 V1078.2"/>
<path d="M334.7 1071.5 V1078.2"/>
<path d="M389.1 1071.5 V1078.2"/>
<path d="M443.6 1071.5 V1078.2"/>
<path d="M498.0 1071.5 V1078.2"/>
<path d="M552.4 1071.5 V1078.2"/>
<path d="M606.9 1071.5 V1078.2"/>
</g>
<text class="t" x="71.8" y="93.0" text-anchor="end">8</text>
<path transform="translate(71.8 93.0)" d="M-17.9 -16.7V0H-19.85V-11.9H-23.8V-13.25Q-20.9 -13.4 -20.1 -14.7Q-19.5 -15.6 -19.3 -16.7Z" fill="#000"/>
<text class="t" x="71.8" y="298.0" text-anchor="end">6</text>
<path transform="translate(71.8 298.0)" d="M-17.9 -16.7V0H-19.85V-11.9H-23.8V-13.25Q-20.9 -13.4 -20.1 -14.7Q-19.5 -15.6 -19.3 -16.7Z" fill="#000"/>
<text class="t" x="71.8" y="503.0" text-anchor="end">4</text>
<path transform="translate(71.8 503.0)" d="M-17.9 -16.7V0H-19.85V-11.9H-23.8V-13.25Q-20.9 -13.4 -20.1 -14.7Q-19.5 -15.6 -19.3 -16.7Z" fill="#000"/>
<text class="t" x="71.8" y="708.0" text-anchor="end">2</text>
<path transform="translate(71.8 708.0)" d="M-17.9 -16.7V0H-19.85V-11.9H-23.8V-13.25Q-20.9 -13.4 -20.1 -14.7Q-19.5 -15.6 -19.3 -16.7Z" fill="#000"/>
<text class="t" x="71.8" y="913.0" text-anchor="end">0</text>
<path transform="translate(71.8 913.0)" d="M-17.9 -16.7V0H-19.85V-11.9H-23.8V-13.25Q-20.9 -13.4 -20.1 -14.7Q-19.5 -15.6 -19.3 -16.7Z" fill="#000"/>
<text class="t" x="117.0" y="1100.7" text-anchor="middle">AZ</text>
<text class="t" x="171.4" y="1100.7" text-anchor="middle">HP1502401</text>
<text class="t" x="225.9" y="1100.7" text-anchor="middle">HP1504901</text>
<text class="t" x="280.3" y="1100.7" text-anchor="middle">HP1506401</text>
<text class="t" x="334.7" y="1100.7" text-anchor="middle">HP1507101</text>
<text class="t" x="389.1" y="1100.7" text-anchor="middle">HP1509101</text>
<text class="t" x="443.6" y="1100.7" text-anchor="middle">HP1504101T2D</text>
<text class="t" x="498.0" y="1100.7" text-anchor="middle">HP1508501T2D</text>
<text class="t" x="552.4" y="1100.7" text-anchor="middle">HP1525301T2D</text>
<text class="t" x="606.9" y="1100.7" text-anchor="middle">HP1526901T2D</text>
<text class="T" transform="translate(33.3 560) rotate(-90)" text-anchor="middle">Expression (logcounts)</text>
<text class="T" x="665.6" y="534.2">Disease</text>
<g fill-opacity="0.6" stroke-opacity="0.6" stroke-width="1.6">
<circle cx="680.8" cy="565.3" r="5.10" fill="#729ECE" stroke="#729ECE"/>
<circle cx="680.8" cy="594.5" r="5.10" fill="#FF9E4A" stroke="#FF9E4A"/>
</g>
<text class="t" x="708.2" y="574.2">normal</text>
<text class="t" x="708.2" y="603.1">type II diabetes mellitus</text>
<rect x="1044.3" y="13.3" width="555.4" height="35.3" fill="#CCCCCC"/>
<text class="t" x="1322.3" y="38.8" text-anchor="middle">INS</text>
<g fill="#FAFAFA" stroke="#999999" stroke-width="2.75" stroke-linejoin="round">
<path d="M1127.5 94.9 L1126.5 97.9 L1125.5 101.0 L1124.5 104.0 L1123.6 107.0 L1122.6 110.0 L1121.6 113.1 L1120.7 116.1 L1119.7 119.1 L1118.8 122.2 L1117.9 125.2 L1117.0 128.2 L1116.1 131.2 L1115.2 134.3 L1114.3 137.3 L1113.4 140.3 L1112.6 143.3 L1111.7 146.4 L1110.8 149.4 L1109.9 152.4 L1109.1 155.5 L1108.3 158.5 L1107.5 161.5 L1106.7 164.5 L1105.9 167.6 L1105.1 170.6 L1104.4 173.6 L1103.7 176.7 L1103.1 179.7 L1102.5 182.7 L1101.9 185.7 L1101.3 188.8 L1100.8 191.8 L1100.3 194.8 L1099.8 197.9 L1099.3 200.9 L1098.9 203.9 L1098.5 206.9 L1098.1 210.0 L1097.7 213.0 L1097.4 216.0 L1097.1 219.0 L1096.8 222.1 L1096.5 225.1 L1096.2 228.1 L1096.0 231.2 L1095.7 234.2 L1095.5 237.2 L1095.3 240.2 L1095.2 243.3 L1095.0 246.3 L1094.8 249.3 L1094.7 252.4 L1094.6 255.4 L1094.5 258.4 L1094.5 261.4 L1094.4 264.5 L1094.4 267.5 L1094.4 270.5 L1094.4 273.6 L1094.5 276.6 L1094.6 279.6 L1094.7 282.6 L1094.8 285.7 L1094.9 288.7 L1095.1 291.7 L1095.3 294.7 L1095.5 297.8 L1095.8 300.8 L1096.0 303.8 L1096.3 306.9 L1096.6 309.9 L1097.0 312.9 L1097.4 315.9 L1097.7 319.0 L1098.2 322.0 L1098.6 325.0 L1099.1 328.1 L1099.6 331.1 L1100.1 334.1 L1100.7 337.1 L1101.2 340.2 L1101.8 343.2 L1102.4 346.2 L1103.0 349.3 L1103.7 352.3 L1104.3 355.3 L1105.0 358.3 L1105.6 361.4 L1106.3 364.4 L1106.9 367.4 L1107.6 370.4 L1108.3 373.5 L1108.9 376.5 L1109.6 379.5 L1110.3 382.6 L1111.0 385.6 L1111.6 388.6 L1112.3 391.6 L1113.0 394.7 L1113.7 397.7 L1114.4 400.7 L1115.0 403.8 L1115.7 406.8 L1116.4 409.8 L1117.1 412.8 L1117.8 415.9 L1118.5 418.9 L1119.1 421.9 L1119.8 425.0 L1120.5 428.0 L1121.1 431.0 L1121.8 434.0 L1122.5 437.1 L1123.1 440.1 L1123.8 443.1 L1124.4 446.2 L1125.0 449.2 L1125.6 452.2 L1126.2 455.2 L1126.7 458.3 L1127.3 461.3 L1127.8 464.3 L1128.3 467.3 L1128.8 470.4 L1129.3 473.4 L1129.7 476.4 L1130.1 479.5 L1130.5 482.5 L1130.9 485.5 L1131.3 488.5 L1131.7 491.6 L1132.0 494.6 L1132.3 497.6 L1132.6 500.7 L1132.9 503.7 L1133.2 506.7 L1133.4 509.7 L1133.7 512.8 L1133.9 515.8 L1134.1 518.8 L1134.2 521.9 L1134.4 524.9 L1134.5 527.9 L1134.6 530.9 L1134.7 534.0 L1134.8 537.0 L1134.9 540.0 L1134.9 543.0 L1135.0 546.1 L1135.0 549.1 L1135.0 552.1 L1135.0 555.2 L1135.0 558.2 L1135.0 561.2 L1134.9 564.2 L1134.9 567.3 L1134.8 570.3 L1134.8 573.3 L1134.7 576.4 L1134.6 579.4 L1134.6 582.4 L1134.5 585.4 L1134.4 588.5 L1134.3 591.5 L1134.2 594.5 L1134.1 597.6 L1133.9 600.6 L1133.8 603.6 L1133.7 606.6 L1133.6 609.7 L1133.6 612.7 L1133.5 615.7 L1133.4 618.7 L1133.3 621.8 L1133.3 624.8 L1133.3 627.8 L1133.2 630.9 L1133.2 633.9 L1133.2 636.9 L1133.3 639.9 L1133.3 643.0 L1133.3 646.0 L1133.4 649.0 L1133.4 652.1 L1133.5 655.1 L1133.6 658.1 L1133.7 661.1 L1133.8 664.2 L1134.0 667.2 L1134.1 670.2 L1134.2 673.3 L1134.4 676.3 L1134.6 679.3 L1134.8 682.3 L1135.0 685.4 L1135.2 688.4 L1135.4 691.4 L1135.6 694.4 L1135.8 697.5 L1136.0 700.5 L1136.3 703.5 L1136.5 706.6 L1136.7 709.6 L1136.9 712.6 L1137.1 715.6 L1137.3 718.7 L1137.5 721.7 L1254.1 721.7 L1254.3 718.7 L1254.5 715.6 L1254.7 712.6 L1254.9 709.6 L1255.1 706.6 L1255.3 703.5 L1255.6 700.5 L1255.8 697.5 L1256.0 694.4 L1256.2 691.4 L1256.4 688.4 L1256.6 685.4 L1256.8 682.3 L1257.0 679.3 L1257.2 676.3 L1257.4 673.3 L1257.5 670.2 L1257.6 667.2 L1257.8 664.2 L1257.9 661.1 L1258.0 658.1 L1258.1 655.1 L1258.2 652.1 L1258.2 649.0 L1258.3 646.0 L1258.3 643.0 L1258.3 639.9 L1258.4 636.9 L1258.4 633.9 L1258.4 630.9 L1258.3 627.8 L1258.3 624.8 L1258.3 621.8 L1258.2 618.7 L1258.1 615.7 L1258.0 612.7 L1258.0 609.7 L1257.9 606.6 L1257.8 603.6 L1257.7 600.6 L1257.5 597.6 L1257.4 594.5 L1257.3 591.5 L1257.2 588.5 L1257.1 585.4 L1257.0 582.4 L1257.0 579.4 L1256.9 576.4 L1256.8 573.3 L1256.8 570.3 L1256.7 567.3 L1256.7 564.2 L1256.6 561.2 L1256.6 558.2 L1256.6 555.2 L1256.6 552.1 L1256.6 549.1 L1256.6 546.1 L1256.7 543.0 L1256.7 540.0 L1256.8 537.0 L1256.9 534.0 L1257.0 530.9 L1257.1 527.9 L1257.2 524.9 L1257.4 521.9 L1257.5 518.8 L1257.7 515.8 L1257.9 512.8 L1258.2 509.7 L1258.4 506.7 L1258.7 503.7 L1259.0 500.7 L1259.3 497.6 L1259.6 494.6 L1259.9 491.6 L1260.3 488.5 L1260.7 485.5 L1261.1 482.5 L1261.5 479.5 L1261.9 476.4 L1262.3 473.4 L1262.8 470.4 L1263.3 467.3 L1263.8 464.3 L1264.3 461.3 L1264.9 458.3 L1265.4 455.2 L1266.0 452.2 L1266.6 449.2 L1267.2 446.2 L1267.8 443.1 L1268.5 440.1 L1269.1 437.1 L1269.8 434.0 L1270.5 431.0 L1271.1 428.0 L1271.8 425.0 L1272.5 421.9 L1273.1 418.9 L1273.8 415.9 L1274.5 412.8 L1275.2 409.8 L1275.9 406.8 L1276.6 403.8 L1277.2 400.7 L1277.9 397.7 L1278.6 394.7 L1279.3 391.6 L1280.0 388.6 L1280.6 385.6 L1281.3 382.6 L1282.0 379.5 L1282.7 376.5 L1283.3 373.5 L1284.0 370.4 L1284.7 367.4 L1285.3 364.4 L1286.0 361.4 L1286.6 358.3 L1287.3 355.3 L1287.9 352.3 L1288.6 349.3 L1289.2 346.2 L1289.8 343.2 L1290.4 340.2 L1290.9 337.1 L1291.5 334.1 L1292.0 331.1 L1292.5 328.1 L1293.0 325.0 L1293.4 322.0 L1293.9 319.0 L1294.2 315.9 L1294.6 312.9 L1295.0 309.9 L1295.3 306.9 L1295.6 303.8 L1295.8 300.8 L1296.1 297.8 L1296.3 294.7 L1296.5 291.7 L1296.7 288.7 L1296.8 285.7 L1296.9 282.6 L1297.0 279.6 L1297.1 276.6 L1297.2 273.6 L1297.2 270.5 L1297.2 267.5 L1297.2 264.5 L1297.1 261.4 L1297.1 258.4 L1297.0 255.4 L1296.9 252.4 L1296.8 249.3 L1296.6 246.3 L1296.4 243.3 L1296.3 240.2 L1296.1 237.2 L1295.9 234.2 L1295.6 231.2 L1295.4 228.1 L1295.1 225.1 L1294.8 222.1 L1294.5 219.0 L1294.2 216.0 L1293.9 213.0 L1293.5 210.0 L1293.1 206.9 L1292.7 203.9 L1292.3 200.9 L1291.8 197.9 L1291.3 194.8 L1290.8 191.8 L1290.3 188.8 L1289.7 185.7 L1289.1 182.7 L1288.5 179.7 L1287.9 176.7 L1287.2 173.6 L1286.5 170.6 L1285.7 167.6 L1284.9 164.5 L1284.1 161.5 L1283.3 158.5 L1282.5 155.5 L1281.7 152.4 L1280.8 149.4 L1279.9 146.4 L1279.0 143.3 L1278.2 140.3 L1277.3 137.3 L1276.4 134.3 L1275.5 131.2 L1274.6 128.2 L1273.7 125.2 L1272.8 122.2 L1271.9 119.1 L1270.9 116.1 L1270.0 113.1 L1269.0 110.0 L1268.0 107.0 L1267.1 104.0 L1266.1 101.0 L1265.1 97.9 L1264.1 94.9Z"/>
<path d="M1370.0 501.1 L1369.2 504.1 L1368.5 507.2 L1367.7 510.2 L1367.0 513.2 L1366.2 516.2 L1365.5 519.3 L1364.8 522.3 L1364.1 525.3 L1363.4 528.3 L1362.8 531.4 L1362.1 534.4 L1361.5 537.4 L1360.9 540.5 L1360.3 543.5 L1359.7 546.5 L1359.1 549.5 L1358.5 552.6 L1358.0 555.6 L1357.4 558.6 L1356.9 561.7 L1356.3 564.7 L1355.8 567.7 L1355.3 570.7 L1354.8 573.8 L1354.3 576.8 L1353.8 579.8 L1353.4 582.8 L1353.0 585.9 L1352.6 588.9 L1352.2 591.9 L1351.8 595.0 L1351.5 598.0 L1351.2 601.0 L1350.8 604.0 L1350.6 607.1 L1350.3 610.1 L1350.0 613.1 L1349.8 616.2 L1349.5 619.2 L1349.3 622.2 L1349.0 625.2 L1348.8 628.3 L1348.6 631.3 L1348.4 634.3 L1348.2 637.3 L1348.0 640.4 L1347.9 643.4 L1347.7 646.4 L1347.6 649.5 L1347.5 652.5 L1347.4 655.5 L1347.3 658.5 L1347.2 661.6 L1347.1 664.6 L1347.1 667.6 L1347.0 670.7 L1347.0 673.7 L1347.0 676.7 L1346.9 679.7 L1346.9 682.8 L1346.9 685.8 L1346.9 688.8 L1346.8 691.8 L1346.8 694.9 L1346.8 697.9 L1346.8 700.9 L1346.8 704.0 L1346.8 707.0 L1346.8 710.0 L1346.9 713.0 L1346.9 716.1 L1347.0 719.1 L1347.0 722.1 L1347.1 725.2 L1347.2 728.2 L1347.3 731.2 L1347.4 734.2 L1347.5 737.3 L1347.6 740.3 L1347.7 743.3 L1347.8 746.3 L1347.9 749.4 L1348.1 752.4 L1348.2 755.4 L1348.3 758.5 L1348.4 761.5 L1348.5 764.5 L1348.7 767.5 L1348.8 770.6 L1348.9 773.6 L1349.1 776.6 L1349.2 779.7 L1349.4 782.7 L1349.6 785.7 L1349.7 788.7 L1349.9 791.8 L1350.1 794.8 L1350.3 797.8 L1350.5 800.8 L1350.6 803.9 L1350.8 806.9 L1351.0 809.9 L1351.2 813.0 L1351.4 816.0 L1351.6 819.0 L1351.8 822.0 L1352.0 825.1 L1352.2 828.1 L1352.4 831.1 L1352.7 834.2 L1352.9 837.2 L1353.2 840.2 L1353.4 843.2 L1353.7 846.3 L1354.0 849.3 L1354.3 852.3 L1354.5 855.3 L1354.8 858.4 L1355.1 861.4 L1355.3 864.4 L1355.6 867.5 L1355.9 870.5 L1356.1 873.5 L1356.4 876.5 L1356.7 879.6 L1357.0 882.6 L1357.3 885.6 L1357.6 888.7 L1357.9 891.7 L1358.2 894.7 L1358.5 897.7 L1358.8 900.8 L1359.2 903.8 L1359.5 906.8 L1359.8 909.8 L1360.2 912.9 L1360.6 915.9 L1360.9 918.9 L1361.3 922.0 L1361.7 925.0 L1362.1 928.0 L1362.5 931.0 L1362.9 934.1 L1363.3 937.1 L1363.7 940.1 L1364.1 943.2 L1364.5 946.2 L1364.9 949.2 L1365.4 952.2 L1365.8 955.3 L1366.2 958.3 L1366.7 961.3 L1367.1 964.3 L1367.6 967.4 L1368.1 970.4 L1368.5 973.4 L1369.0 976.5 L1369.5 979.5 L1370.0 982.5 L1370.5 985.5 L1371.0 988.6 L1371.5 991.6 L1372.1 994.6 L1372.6 997.7 L1373.1 1000.7 L1373.6 1003.7 L1374.1 1006.7 L1374.7 1009.8 L1375.2 1012.8 L1375.7 1015.8 L1376.2 1018.8 L1376.7 1021.9 L1377.2 1024.9 L1519.2 1024.9 L1519.7 1021.9 L1520.2 1018.8 L1520.7 1015.8 L1521.2 1012.8 L1521.7 1009.8 L1522.3 1006.7 L1522.8 1003.7 L1523.3 1000.7 L1523.8 997.7 L1524.3 994.6 L1524.9 991.6 L1525.4 988.6 L1525.9 985.5 L1526.4 982.5 L1526.9 979.5 L1527.4 976.5 L1527.9 973.4 L1528.3 970.4 L1528.8 967.4 L1529.3 964.3 L1529.7 961.3 L1530.2 958.3 L1530.6 955.3 L1531.0 952.2 L1531.5 949.2 L1531.9 946.2 L1532.3 943.2 L1532.7 940.1 L1533.1 937.1 L1533.5 934.1 L1533.9 931.0 L1534.3 928.0 L1534.7 925.0 L1535.1 922.0 L1535.5 918.9 L1535.8 915.9 L1536.2 912.9 L1536.6 909.8 L1536.9 906.8 L1537.2 903.8 L1537.6 900.8 L1537.9 897.7 L1538.2 894.7 L1538.5 891.7 L1538.8 888.7 L1539.1 885.6 L1539.4 882.6 L1539.7 879.6 L1540.0 876.5 L1540.3 873.5 L1540.5 870.5 L1540.8 867.5 L1541.1 864.4 L1541.3 861.4 L1541.6 858.4 L1541.9 855.3 L1542.1 852.3 L1542.4 849.3 L1542.7 846.3 L1543.0 843.2 L1543.2 840.2 L1543.5 837.2 L1543.7 834.2 L1544.0 831.1 L1544.2 828.1 L1544.4 825.1 L1544.6 822.0 L1544.8 819.0 L1545.0 816.0 L1545.2 813.0 L1545.4 809.9 L1545.6 806.9 L1545.8 803.9 L1545.9 800.8 L1546.1 797.8 L1546.3 794.8 L1546.5 791.8 L1546.7 788.7 L1546.8 785.7 L1547.0 782.7 L1547.2 779.7 L1547.3 776.6 L1547.5 773.6 L1547.6 770.6 L1547.7 767.5 L1547.9 764.5 L1548.0 761.5 L1548.1 758.5 L1548.2 755.4 L1548.3 752.4 L1548.5 749.4 L1548.6 746.3 L1548.7 743.3 L1548.8 740.3 L1548.9 737.3 L1549.0 734.2 L1549.1 731.2 L1549.2 728.2 L1549.3 725.2 L1549.4 722.1 L1549.4 719.1 L1549.5 716.1 L1549.5 713.0 L1549.6 710.0 L1549.6 707.0 L1549.6 704.0 L1549.6 700.9 L1549.6 697.9 L1549.6 694.9 L1549.6 691.8 L1549.5 688.8 L1549.5 685.8 L1549.5 682.8 L1549.5 679.7 L1549.4 676.7 L1549.4 673.7 L1549.4 670.7 L1549.3 667.6 L1549.3 664.6 L1549.2 661.6 L1549.1 658.5 L1549.0 655.5 L1548.9 652.5 L1548.8 649.5 L1548.7 646.4 L1548.5 643.4 L1548.4 640.4 L1548.2 637.3 L1548.0 634.3 L1547.8 631.3 L1547.6 628.3 L1547.4 625.2 L1547.1 622.2 L1546.9 619.2 L1546.6 616.2 L1546.4 613.1 L1546.1 610.1 L1545.8 607.1 L1545.6 604.0 L1545.2 601.0 L1544.9 598.0 L1544.6 595.0 L1544.2 591.9 L1543.8 588.9 L1543.4 585.9 L1543.0 582.8 L1542.6 579.8 L1542.1 576.8 L1541.6 573.8 L1541.1 570.7 L1540.6 567.7 L1540.1 564.7 L1539.5 561.7 L1539.0 558.6 L1538.4 555.6 L1537.9 552.6 L1537.3 549.5 L1536.7 546.5 L1536.1 543.5 L1535.5 540.5 L1534.9 537.4 L1534.3 534.4 L1533.6 531.4 L1533.0 528.3 L1532.3 525.3 L1531.6 522.3 L1530.9 519.3 L1530.2 516.2 L1529.4 513.2 L1528.7 510.2 L1527.9 507.2 L1527.2 504.1 L1526.4 501.1Z"/>
</g>
<g fill-opacity="0.6" stroke-opacity="0.6" stroke-width="1.6">
<circle cx="1178.8" cy="95.0" r="5.10" fill="#729ECE" stroke="#729ECE"/>
<circle cx="1220.5" cy="233.0" r="5.10" fill="#729ECE" stroke="#729ECE"/>
<circle cx="1122.0" cy="312.6" r="5.10" fill="#729ECE" stroke="#729ECE"/>
<circle cx="1243.3" cy="332.5" r="5.10" fill="#729ECE" stroke="#729ECE"/>
<circle cx="1164.5" cy="652.8" r="5.10" fill="#729ECE" stroke="#729ECE"/>
<circle cx="1195.5" cy="721.9" r="5.10" fill="#729ECE" stroke="#729ECE"/>
<circle cx="1389.7" cy="501.0" r="5.10" fill="#FF9E4A" stroke="#FF9E4A"/>
<circle cx="1498.2" cy="667.9" r="5.10" fill="#FF9E4A" stroke="#FF9E4A"/>
<circle cx="1400.2" cy="832.7" r="5.10" fill="#FF9E4A" stroke="#FF9E4A"/>
<circle cx="1448.0" cy="1024.8" r="5.10" fill="#FF9E4A" stroke="#FF9E4A"/>
</g>
<g stroke="#000" stroke-width="3" fill="none">
<path d="M1044.3 47 V1071.5 H1600.6" stroke-linecap="butt" stroke-linejoin="miter"/>
<path d="M1037.3 131.6 H1044.3"/>
<path d="M1037.3 364.5 H1044.3"/>
<path d="M1037.3 597.4 H1044.3"/>
<path d="M1037.3 830.2 H1044.3"/>
<path d="M1037.3 1063.1 H1044.3"/>
<path d="M1195.8 1071.5 V1078.2"/>
<path d="M1448.2 1071.5 V1078.2"/>
</g>
<text class="t" x="1031.8" y="140.0" text-anchor="end">7</text>
<path transform="translate(1031.8 140.0)" d="M-17.9 -16.7V0H-19.85V-11.9H-23.8V-13.25Q-20.9 -13.4 -20.1 -14.7Q-19.5 -15.6 -19.3 -16.7Z" fill="#000"/>
<text class="t" x="1031.8" y="373.0" text-anchor="end">6</text>
<path transform="translate(1031.8 373.0)" d="M-17.9 -16.7V0H-19.85V-11.9H-23.8V-13.25Q-20.9 -13.4 -20.1 -14.7Q-19.5 -15.6 -19.3 -16.7Z" fill="#000"/>
<text class="t" x="1031.8" y="606.0" text-anchor="end">5</text>
<path transform="translate(1031.8 606.0)" d="M-17.9 -16.7V0H-19.85V-11.9H-23.8V-13.25Q-20.9 -13.4 -20.1 -14.7Q-19.5 -15.6 -19.3 -16.7Z" fill="#000"/>
<text class="t" x="1031.8" y="839.0" text-anchor="end">4</text>
<path transform="translate(1031.8 839.0)" d="M-17.9 -16.7V0H-19.85V-11.9H-23.8V-13.25Q-20.9 -13.4 -20.1 -14.7Q-19.5 -15.6 -19.3 -16.7Z" fill="#000"/>
<text class="t" x="1031.8" y="1072.0" text-anchor="end">3</text>
<path transform="translate(1031.8 1072.0)" d="M-17.9 -16.7V0H-19.85V-11.9H-23.8V-13.25Q-20.9 -13.4 -20.1 -14.7Q-19.5 -15.6 -19.3 -16.7Z" fill="#000"/>
<text class="t" x="1195.8" y="1100.7" text-anchor="middle">normal</text>
<text class="t" x="1448.2" y="1100.7" text-anchor="middle">type II diabetes mellitus</text>
<text class="T" transform="translate(993.3 560) rotate(-90)" text-anchor="middle">Expression (logcounts)</text>
<text class="T" x="1322.3" y="1132.5" text-anchor="middle">Disease</text>
<text class="T" x="1625.6" y="534.2">Disease</text>
<g fill-opacity="0.6" stroke-opacity="0.6" stroke-width="1.6">
<circle cx="1640.8" cy="565.3" r="5.10" fill="#729ECE" stroke="#729ECE"/>
<circle cx="1640.8" cy="594.5" r="5.10" fill="#FF9E4A" stroke="#FF9E4A"/>
</g>
<text class="t" x="1668.2" y="574.2">normal</text>
<text class="t" x="1668.2" y="603.1">type II diabetes mellitus</text>
</svg></body></html>
